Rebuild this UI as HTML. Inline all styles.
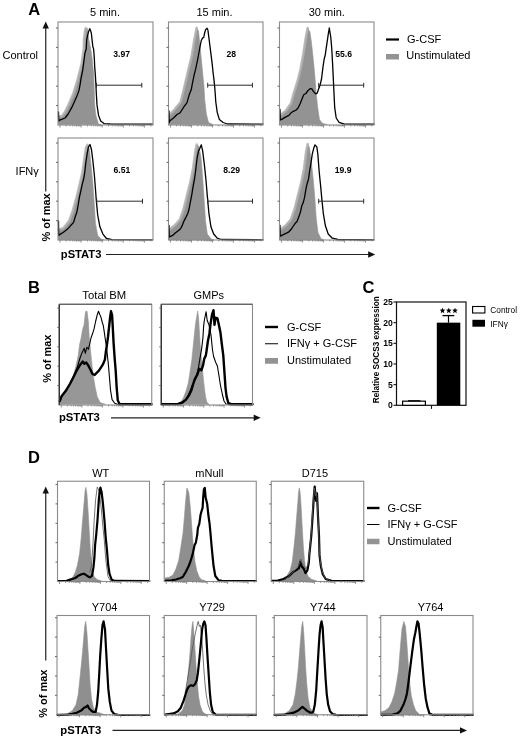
<!DOCTYPE html>
<html><head><meta charset="utf-8"><title>Figure</title>
<style>
html,body{margin:0;padding:0;background:#fff;width:520px;height:738px;overflow:hidden;}
svg{display:block;font-family:"Liberation Sans", sans-serif;filter:grayscale(1);}
</style></head><body>
<svg width="520" height="738" viewBox="0 0 520 738">
<rect x="0" y="0" width="520" height="738" fill="#fff"/>
<polygon points="58.50,124.50 58.50,116.60 62.00,116.00 65.00,112.00 68.40,105.00 73.50,93.20 77.90,78.60 81.60,64.00 83.80,49.30 84.00,39.90 85.20,30.00 85.80,28.20 87.40,28.50 88.90,39.90 90.70,48.80 92.05,57.70 92.90,66.60 93.80,75.60 94.30,93.00 94.70,105.00 95.80,115.00 98.40,124.00 101.00,124.50" fill="#939393" stroke="#939393" stroke-width="0.6" stroke-linejoin="round"/>
<polyline points="58.50,116.60 62.00,116.00 65.00,112.00 68.40,105.00 73.50,93.20 77.90,78.60 81.60,64.00 83.80,49.30 84.00,39.90 85.20,30.00 85.80,28.20" fill="none" stroke="#b3b3b3" stroke-width="2.6" stroke-linejoin="round" stroke-linecap="round" opacity="0.85"/>
<polyline points="58.50,112.00 58.80,121.00 60.40,119.80 65.10,118.00 68.50,113.50 72.30,106.40 74.50,101.50 76.75,96.60 79.00,90.40 80.20,84.00 80.90,79.10 82.70,70.20 84.00,60.40 84.90,53.25 86.25,48.80 86.70,39.90 87.60,35.40 88.50,31.80 89.80,28.70 90.70,30.90 91.40,33.60 92.05,39.90 92.90,47.00 93.60,48.80 94.30,57.70 94.70,66.60 95.40,75.60 95.90,84.50 96.30,93.20 97.00,104.90 98.50,115.20 100.70,121.00 104.30,123.70 110.00,124.00 152.50,124.20" fill="none" stroke="#000" stroke-width="1.3" stroke-linejoin="round" stroke-linecap="round"/>
<line x1="96.5" y1="85.2" x2="141.8" y2="85.2" stroke="#2a2a2a" stroke-width="1.0"/>
<line x1="141.8" y1="82.8" x2="141.8" y2="87.60000000000001" stroke="#2a2a2a" stroke-width="1.0"/>
<line x1="96.5" y1="82.8" x2="96.5" y2="87.60000000000001" stroke="#2a2a2a" stroke-width="1.0"/>
<text x="113.3" y="57.1" font-size="8.6" font-weight="bold">3.97</text>
<polygon points="169.00,124.50 169.00,115.20 174.80,109.30 180.60,102.00 183.60,90.30 188.00,71.20 191.60,56.60 194.50,39.00 196.70,27.80 198.50,30.90 199.40,39.90 200.30,48.80 201.20,57.70 202.05,66.60 202.90,75.60 203.80,84.50 204.80,100.50 206.30,113.70 208.50,122.50 212.90,124.50" fill="#939393" stroke="#939393" stroke-width="0.6" stroke-linejoin="round"/>
<polyline points="169.00,115.20 174.80,109.30 180.60,102.00 183.60,90.30 188.00,71.20 191.60,56.60 194.50,39.00 196.70,27.80" fill="none" stroke="#b3b3b3" stroke-width="2.6" stroke-linejoin="round" stroke-linecap="round" opacity="0.85"/>
<polyline points="169.00,110.80 169.20,122.50 169.90,120.70 173.50,118.00 177.00,114.50 180.20,112.70 181.90,110.00 184.20,106.40 186.90,102.90 188.20,98.40 189.50,93.90 191.30,89.50 192.20,84.50 194.00,75.60 195.80,68.40 197.10,62.20 198.50,55.00 199.80,47.90 201.20,40.75 202.50,38.10 203.80,37.20 204.70,32.70 205.60,29.60 207.00,28.25 207.90,30.00 208.60,35.40 209.50,42.50 210.40,49.70 211.40,57.70 212.30,64.90 213.00,72.00 213.90,79.10 214.55,85.40 215.10,92.00 215.80,102.00 217.20,112.20 219.40,119.60 223.10,122.50 227.50,124.00 263.00,124.20" fill="none" stroke="#000" stroke-width="1.3" stroke-linejoin="round" stroke-linecap="round"/>
<line x1="207.7" y1="85.2" x2="252.4" y2="85.2" stroke="#2a2a2a" stroke-width="1.0"/>
<line x1="252.4" y1="82.8" x2="252.4" y2="87.60000000000001" stroke="#2a2a2a" stroke-width="1.0"/>
<line x1="207.7" y1="82.8" x2="207.7" y2="87.60000000000001" stroke="#2a2a2a" stroke-width="1.0"/>
<text x="226.4" y="56.9" font-size="8.6" font-weight="bold">28</text>
<polygon points="280.00,124.50 280.00,115.20 285.80,110.80 290.90,103.50 293.80,93.20 297.50,81.50 300.40,69.80 303.40,53.70 305.60,39.00 307.70,28.00 309.90,31.70 311.40,42.00 313.30,59.50 314.80,75.60 316.20,93.20 317.70,107.80 319.50,119.60 322.40,123.20 326.80,124.50" fill="#939393" stroke="#939393" stroke-width="0.6" stroke-linejoin="round"/>
<polyline points="280.00,115.20 285.80,110.80 290.90,103.50 293.80,93.20 297.50,81.50 300.40,69.80 303.40,53.70 305.60,39.00 307.70,28.00" fill="none" stroke="#b3b3b3" stroke-width="2.6" stroke-linejoin="round" stroke-linecap="round" opacity="0.85"/>
<polyline points="280.00,109.30 280.30,120.00 281.80,119.40 285.40,117.10 288.90,115.40 291.20,112.70 293.40,111.30 296.10,110.00 297.90,108.20 300.10,103.75 301.90,99.30 303.70,94.80 305.90,93.50 308.10,90.40 310.40,88.60 312.00,89.00 313.50,91.60 315.70,93.80 317.20,93.10 318.70,88.70 320.10,85.10 321.60,78.50 323.00,66.80 324.10,59.50 325.20,55.10 326.70,44.90 328.20,34.60 329.30,28.00 330.80,37.50 331.80,49.20 332.60,63.90 333.30,78.50 334.00,93.10 334.70,107.70 336.20,118.00 339.10,122.30 344.30,124.10 374.00,124.20" fill="none" stroke="#000" stroke-width="1.3" stroke-linejoin="round" stroke-linecap="round"/>
<line x1="318.7" y1="85.2" x2="363.7" y2="85.2" stroke="#2a2a2a" stroke-width="1.0"/>
<line x1="363.7" y1="82.8" x2="363.7" y2="87.60000000000001" stroke="#2a2a2a" stroke-width="1.0"/>
<line x1="318.7" y1="82.8" x2="318.7" y2="87.60000000000001" stroke="#2a2a2a" stroke-width="1.0"/>
<text x="335.3" y="57.1" font-size="8.6" font-weight="bold">55.6</text>
<polygon points="58.50,240.00 58.50,229.70 63.30,228.20 69.20,220.90 72.80,210.70 76.50,197.50 79.40,185.80 82.40,172.60 84.50,158.00 86.00,147.70 87.50,144.80 89.40,149.20 91.10,165.30 92.90,184.30 94.40,206.30 95.50,223.80 97.70,235.60 101.40,239.20 104.00,240.00" fill="#939393" stroke="#939393" stroke-width="0.6" stroke-linejoin="round"/>
<polyline points="58.50,229.70 63.30,228.20 69.20,220.90 72.80,210.70 76.50,197.50 79.40,185.80 82.40,172.60 84.50,158.00 86.00,147.70 87.50,144.80" fill="none" stroke="#b3b3b3" stroke-width="2.6" stroke-linejoin="round" stroke-linecap="round" opacity="0.85"/>
<polyline points="58.50,220.90 58.70,235.60 59.30,234.90 63.40,232.30 66.90,229.60 69.60,226.90 71.40,224.70 73.60,222.40 75.40,216.20 76.75,212.60 78.10,205.50 79.40,197.40 80.80,191.20 82.10,184.90 83.90,177.80 84.80,172.00 85.70,163.50 87.10,153.80 88.50,146.90 90.00,144.50 91.40,149.20 92.90,160.90 94.40,175.50 95.20,185.80 96.30,200.40 97.70,215.00 99.90,226.80 102.90,234.10 106.50,238.50 112.00,239.60 152.50,239.80" fill="none" stroke="#000" stroke-width="1.3" stroke-linejoin="round" stroke-linecap="round"/>
<line x1="96.7" y1="201.2" x2="142.5" y2="201.2" stroke="#2a2a2a" stroke-width="1.0"/>
<line x1="142.5" y1="198.79999999999998" x2="142.5" y2="203.6" stroke="#2a2a2a" stroke-width="1.0"/>
<line x1="96.7" y1="198.79999999999998" x2="96.7" y2="203.6" stroke="#2a2a2a" stroke-width="1.0"/>
<text x="113.6" y="173.3" font-size="8.6" font-weight="bold">6.51</text>
<polygon points="169.00,240.00 169.00,229.70 174.80,225.30 179.90,219.50 183.60,209.20 187.20,194.60 190.20,182.90 193.10,168.20 195.30,152.10 196.70,144.50 198.90,146.20 201.10,158.00 202.60,177.00 204.10,199.00 205.50,220.90 207.30,234.10 211.40,239.20 214.00,240.00" fill="#939393" stroke="#939393" stroke-width="0.6" stroke-linejoin="round"/>
<polyline points="169.00,229.70 174.80,225.30 179.90,219.50 183.60,209.20 187.20,194.60 190.20,182.90 193.10,168.20 195.30,152.10 196.70,144.50" fill="none" stroke="#b3b3b3" stroke-width="2.6" stroke-linejoin="round" stroke-linecap="round" opacity="0.85"/>
<polyline points="169.00,225.30 169.20,237.00 169.90,236.70 172.60,235.40 175.25,233.10 177.90,230.90 180.60,228.70 182.40,225.10 184.20,220.60 186.00,217.10 187.75,213.50 189.10,209.00 190.40,201.90 191.80,194.75 192.90,187.60 194.40,179.60 195.50,172.00 197.10,158.00 198.50,151.10 199.90,148.30 201.30,144.80 202.70,151.10 204.70,167.70 206.10,181.50 207.50,198.10 208.90,213.30 211.00,227.10 213.70,234.00 217.20,238.20 221.30,239.50 263.00,239.80" fill="none" stroke="#000" stroke-width="1.3" stroke-linejoin="round" stroke-linecap="round"/>
<line x1="207.7" y1="201.2" x2="252.5" y2="201.2" stroke="#2a2a2a" stroke-width="1.0"/>
<line x1="252.5" y1="198.79999999999998" x2="252.5" y2="203.6" stroke="#2a2a2a" stroke-width="1.0"/>
<line x1="207.7" y1="198.79999999999998" x2="207.7" y2="203.6" stroke="#2a2a2a" stroke-width="1.0"/>
<text x="223.3" y="173.3" font-size="8.6" font-weight="bold">8.29</text>
<polygon points="280.00,240.00 280.00,229.70 285.80,225.30 290.90,219.50 294.60,209.20 298.20,194.60 301.20,182.90 304.10,168.20 306.30,150.60 307.70,144.00 309.50,147.70 311.40,162.40 313.30,179.90 314.80,197.50 316.20,218.00 318.00,232.60 320.90,238.50 324.00,240.00" fill="#939393" stroke="#939393" stroke-width="0.6" stroke-linejoin="round"/>
<polyline points="280.00,229.70 285.80,225.30 290.90,219.50 294.60,209.20 298.20,194.60 301.20,182.90 304.10,168.20 306.30,150.60 307.70,144.00" fill="none" stroke="#b3b3b3" stroke-width="2.6" stroke-linejoin="round" stroke-linecap="round" opacity="0.85"/>
<polyline points="280.00,225.30 280.20,236.30 281.80,235.40 285.40,233.60 288.90,231.80 291.60,228.70 293.40,226.00 295.20,223.30 297.00,221.50 298.75,217.10 300.50,211.70 301.90,205.50 303.20,202.80 304.55,197.40 305.90,189.40 306.80,184.90 308.60,178.70 309.50,171.80 310.90,163.50 312.30,153.80 313.70,148.30 315.00,144.80 316.80,146.90 317.80,153.80 319.20,171.80 320.60,185.60 322.00,200.90 323.30,213.30 325.40,225.80 328.20,234.00 332.30,238.20 337.90,239.50 374.00,239.80" fill="none" stroke="#000" stroke-width="1.3" stroke-linejoin="round" stroke-linecap="round"/>
<line x1="318.7" y1="201.2" x2="363.7" y2="201.2" stroke="#2a2a2a" stroke-width="1.0"/>
<line x1="363.7" y1="198.79999999999998" x2="363.7" y2="203.6" stroke="#2a2a2a" stroke-width="1.0"/>
<line x1="318.7" y1="198.79999999999998" x2="318.7" y2="203.6" stroke="#2a2a2a" stroke-width="1.0"/>
<text x="334.8" y="173.3" font-size="8.6" font-weight="bold">19.9</text>
<polygon points="60.00,404.30 60.00,401.00 62.80,396.60 67.20,387.80 70.20,382.00 73.10,376.10 76.00,365.90 78.20,355.60 79.70,343.90 81.10,338.10 82.60,329.30 84.00,324.90 85.50,311.70 87.00,311.00 88.40,322.00 89.20,336.60 90.60,351.20 92.10,365.90 93.50,377.60 95.30,387.80 97.20,396.60 100.10,402.50 105.20,404.30" fill="#979797" stroke="#979797" stroke-width="0.6" stroke-linejoin="round"/>
<polyline points="60.00,401.00 61.40,396.60 65.80,390.80 70.20,383.50 73.80,376.10 77.10,367.80 80.20,357.50 82.20,352.40 84.30,348.20 85.30,353.40 86.90,347.20 88.40,349.30 89.40,345.20 91.00,338.00 92.50,333.80 94.10,328.70 95.60,321.50 97.10,315.30 98.50,311.20 99.70,314.30 101.00,317.40 102.30,322.50 103.30,325.60 104.40,332.80 105.40,340.00 106.40,346.20 107.40,355.40 108.50,365.70 109.50,378.00 110.50,390.00 112.10,399.60 114.70,403.20 117.60,404.20 151.50,404.30" fill="none" stroke="#000" stroke-width="1.1" stroke-linejoin="round" stroke-linecap="round"/>
<polyline points="59.80,401.00 61.40,396.60 65.80,390.80 70.20,383.50 74.00,376.00 77.10,369.80 80.20,364.70 82.70,361.60 84.30,363.70 86.30,362.60 88.40,365.70 90.50,369.80 92.50,374.00 94.60,375.00 96.60,372.90 98.70,370.90 100.70,367.80 102.80,364.70 104.90,359.60 105.90,351.30 106.90,345.20 108.00,336.90 109.00,327.70 110.00,318.40 111.00,311.20 112.10,315.30 112.90,329.70 113.60,343.10 114.60,357.50 115.70,370.90 116.70,388.00 117.80,400.50 119.80,404.20 151.50,404.30" fill="none" stroke="#000" stroke-width="2.4" stroke-linejoin="round" stroke-linecap="round"/>
<polygon points="162.00,404.30 178.00,403.80 181.00,402.00 183.50,397.50 186.00,391.00 188.30,383.00 190.00,372.00 191.80,360.00 193.00,348.00 194.20,336.00 195.50,324.00 196.80,316.00 197.70,311.00 198.60,318.00 199.30,330.00 200.20,345.00 201.20,357.00 202.30,368.00 203.50,380.00 204.60,390.00 205.80,398.00 207.00,402.50 209.00,404.30" fill="#979797" stroke="#979797" stroke-width="0.6" stroke-linejoin="round"/>
<polyline points="162.00,404.30 178.00,404.00 182.40,402.50 186.00,399.60 188.20,395.20 192.60,384.90 196.30,377.60 198.50,367.30 200.20,357.10 201.70,348.30 202.90,338.10 203.60,326.40 204.30,320.50 206.10,311.70 207.20,320.50 209.00,324.90 211.00,335.00 212.50,350.00 213.50,356.00 215.50,362.00 217.40,366.00 219.00,376.00 220.40,385.00 222.50,395.00 224.00,401.00 226.00,404.00 252.50,404.30" fill="none" stroke="#000" stroke-width="1.1" stroke-linejoin="round" stroke-linecap="round"/>
<polyline points="162.00,404.30 178.00,404.00 182.40,402.50 186.00,399.60 189.00,395.20 191.20,390.80 192.90,384.90 194.80,379.10 197.30,374.70 199.20,368.80 201.40,370.30 202.90,365.90 204.30,358.60 205.80,355.60 206.50,351.20 207.90,341.00 209.40,333.70 210.60,323.40 212.00,314.60 213.50,310.20 214.50,324.90 215.50,317.60 217.40,318.30 218.90,324.90 220.40,332.20 221.80,343.90 223.30,355.60 224.00,365.90 224.70,376.10 225.50,387.80 226.60,396.60 228.40,403.20 231.30,404.20 252.50,404.30" fill="none" stroke="#000" stroke-width="2.4" stroke-linejoin="round" stroke-linecap="round"/>
<polygon points="58.00,581.00 69.50,580.20 72.40,578.00 75.30,572.20 77.50,565.00 79.60,553.40 81.10,538.90 82.50,521.50 84.00,504.10 85.10,491.00 85.90,487.40 86.90,494.00 88.00,509.90 89.10,528.70 90.10,546.10 91.20,560.60 92.40,570.80 94.10,576.60 97.00,579.40 101.40,581.00" fill="#8f8f8f" stroke="#8f8f8f" stroke-width="0.6" stroke-linejoin="round"/>
<polyline points="89.80,572.00 91.50,566.00 93.00,543.20 94.10,521.50 95.60,499.70 97.30,487.00 99.20,491.00 101.10,507.00 102.80,525.80 104.30,540.30 105.80,560.00 108.00,576.60 110.10,580.20 113.00,581.00" fill="none" stroke="#5a5a5a" stroke-width="0.85" stroke-linejoin="round" stroke-linecap="round"/>
<polyline points="58.00,581.00 66.60,580.90 70.90,579.40 75.30,578.00 78.20,575.80 81.10,574.40 84.00,573.70 86.20,575.10 88.30,576.60 89.80,577.30 92.00,575.80 93.40,567.90 94.40,557.70 95.10,545.00 96.20,535.00 97.50,520.00 98.30,508.00 98.80,500.00 99.60,492.00 100.40,487.60 101.60,492.00 103.00,504.00 104.60,522.00 105.60,536.00 107.00,550.50 108.20,565.00 109.50,573.70 111.50,579.40 114.50,580.90 149.30,581.00" fill="none" stroke="#000" stroke-width="2.2" stroke-linejoin="round" stroke-linecap="round"/>
<polygon points="165.00,581.00 164.90,578.00 169.20,577.30 172.90,575.10 175.80,569.30 178.70,560.60 180.80,547.60 183.00,533.10 184.50,515.70 185.50,502.60 186.90,488.10 188.80,492.50 190.30,507.00 191.40,521.50 192.40,536.00 193.60,550.50 195.00,562.10 196.80,570.80 199.00,576.60 201.10,579.40 205.50,581.00" fill="#8f8f8f" stroke="#8f8f8f" stroke-width="0.6" stroke-linejoin="round"/>
<polyline points="165.00,580.80 171.50,580.30 176.00,579.50 180.00,578.20 182.70,577.00 186.00,571.60 188.60,566.30 190.60,561.00 192.60,554.40 194.60,545.10 195.90,542.40 197.30,534.50 197.90,527.80 199.30,523.80 200.60,514.50 201.70,510.60 202.60,507.90 203.20,497.30 203.90,489.30 204.80,488.00 205.60,497.30 207.20,503.90 208.30,514.50 209.60,523.80 210.60,534.50 211.50,545.10 212.50,555.70 213.60,566.30 215.30,576.00 218.70,580.40 222.00,580.90 256.00,581.00" fill="none" stroke="#000" stroke-width="2.2" stroke-linejoin="round" stroke-linecap="round"/>
<polygon points="272.00,581.00 282.00,579.40 286.40,576.60 290.00,570.80 292.20,562.10 293.90,547.60 295.40,533.10 296.50,518.60 297.70,504.10 298.70,491.00 299.40,487.90 300.40,495.40 301.30,509.90 302.30,528.70 303.30,546.10 304.50,560.60 306.00,570.80 308.10,576.60 311.80,579.40 316.80,581.00" fill="#8f8f8f" stroke="#8f8f8f" stroke-width="0.6" stroke-linejoin="round"/>
<polyline points="272.00,580.80 278.00,580.50 283.40,579.00 289.20,576.10 293.00,572.20 295.90,570.30 298.80,568.40 300.30,561.70 301.70,566.50 303.60,568.40 305.50,573.00 307.40,570.30 308.80,562.60 309.30,554.90 311.30,535.70 312.60,516.50 313.80,497.20 314.70,486.70 316.10,501.00 317.00,493.40 318.00,516.50 319.00,535.70 319.50,554.90 320.90,566.50 322.80,574.20 325.70,579.00 331.50,580.90 363.50,581.00" fill="none" stroke="#000" stroke-width="2.2" stroke-linejoin="round" stroke-linecap="round"/>
<polyline points="285.00,579.50 290.00,575.50 294.00,571.00 297.00,568.00 299.50,564.00 300.80,559.00 302.00,563.00 304.00,566.00 306.00,569.00 308.00,564.00 309.50,552.00 311.00,535.00 312.30,516.00 313.50,497.00 314.50,488.00 315.50,496.00 316.50,492.00 317.60,510.00 318.60,530.00 319.30,550.00 320.50,563.00 322.50,572.00 325.00,578.00 330.00,580.80" fill="none" stroke="#5a5a5a" stroke-width="0.85" stroke-linejoin="round" stroke-linecap="round"/>
<polygon points="57.50,715.00 68.00,713.40 72.40,710.60 76.00,704.80 78.20,694.60 79.60,681.60 81.10,667.10 82.50,652.60 83.70,638.10 84.70,626.50 85.70,621.40 86.90,632.30 88.00,649.70 89.10,667.10 90.10,684.50 91.50,699.00 93.40,707.70 96.30,712.00 101.40,713.40 105.00,715.00" fill="#8f8f8f" stroke="#8f8f8f" stroke-width="0.6" stroke-linejoin="round"/>
<polyline points="57.50,714.80 68.00,714.60 72.40,713.80 76.70,712.70 81.10,710.60 84.00,707.70 86.20,706.90 87.60,705.50 89.10,708.40 91.20,710.60 93.40,712.00 95.60,712.00 97.00,704.80 98.20,691.70 99.20,674.30 100.20,655.50 101.40,638.10 102.50,625.00 103.60,621.40 105.00,629.40 106.00,648.20 107.20,670.00 108.30,688.80 109.80,701.90 111.50,710.60 114.40,714.20 118.00,714.80 149.30,715.00" fill="none" stroke="#000" stroke-width="2.2" stroke-linejoin="round" stroke-linecap="round"/>
<polygon points="165.00,715.00 177.90,714.20 182.30,710.60 184.50,704.80 185.90,694.60 187.40,681.60 188.80,667.10 190.00,652.60 191.00,638.10 192.00,626.50 192.90,621.40 193.90,633.70 195.00,649.70 196.10,667.10 197.20,681.60 198.50,696.10 200.00,704.80 202.60,712.00 206.90,715.00" fill="#8f8f8f" stroke="#8f8f8f" stroke-width="0.6" stroke-linejoin="round"/>
<polyline points="185.20,693.20 187.40,680.10 189.50,667.10 191.00,658.40 192.40,648.20 193.90,641.00 195.30,633.70 196.80,626.50 198.20,621.40 199.40,626.50 200.40,625.00 201.40,633.70 202.60,649.70 203.70,667.10 204.80,681.60 206.20,694.60 208.10,704.80 210.60,711.50 213.00,714.60" fill="none" stroke="#5a5a5a" stroke-width="0.85" stroke-linejoin="round" stroke-linecap="round"/>
<polyline points="165.00,714.50 173.60,713.40 177.90,711.30 180.80,707.70 183.70,700.40 185.90,693.20 187.40,688.80 188.80,686.60 191.00,685.20 193.20,685.90 195.30,683.70 196.80,680.10 197.90,672.90 199.00,662.70 200.00,652.60 201.10,641.00 202.10,629.40 203.30,623.60 204.30,621.40 205.50,625.00 206.40,638.00 207.40,655.00 208.70,675.00 209.90,693.20 211.10,704.80 212.80,712.00 215.70,714.60 256.00,714.80" fill="none" stroke="#000" stroke-width="2.2" stroke-linejoin="round" stroke-linecap="round"/>
<polygon points="274.50,715.00 285.00,713.40 289.40,710.60 293.00,704.80 295.20,694.60 296.90,681.60 298.40,667.10 299.50,652.60 300.70,638.10 301.70,626.50 302.70,621.40 303.60,630.80 304.60,648.20 305.60,667.10 306.80,684.50 308.20,699.00 310.00,707.70 313.30,712.70 318.40,715.00" fill="#8f8f8f" stroke="#8f8f8f" stroke-width="0.6" stroke-linejoin="round"/>
<polyline points="274.50,714.80 285.00,714.60 289.40,713.60 293.70,712.70 298.10,710.60 300.50,708.50 302.40,706.90 304.50,708.50 306.80,710.60 310.40,712.70 312.60,712.30 313.30,711.50 314.80,704.80 316.20,690.30 317.20,672.90 318.40,652.60 319.50,635.20 320.60,625.00 321.60,621.40 322.70,628.00 323.40,641.00 324.50,659.80 325.60,678.70 326.80,694.60 328.20,704.80 330.00,711.30 332.90,714.20 336.00,714.80 366.80,715.00" fill="none" stroke="#000" stroke-width="2.2" stroke-linejoin="round" stroke-linecap="round"/>
<polygon points="381.50,715.00 380.90,712.00 385.20,710.60 388.90,707.70 391.80,701.90 394.70,693.20 396.80,681.60 398.60,670.00 399.70,655.50 400.90,641.00 401.90,629.40 403.80,621.40 405.50,626.50 406.70,641.00 407.70,655.50 408.70,670.00 409.90,684.50 411.30,696.10 413.50,704.80 415.70,710.60 420.00,715.00" fill="#8f8f8f" stroke="#8f8f8f" stroke-width="0.6" stroke-linejoin="round"/>
<polyline points="381.50,714.80 392.50,714.60 397.60,713.40 400.50,710.60 403.40,704.80 405.50,699.00 407.00,693.20 408.40,683.00 409.60,672.90 411.00,661.30 412.50,649.70 413.90,639.50 415.40,632.30 416.40,626.50 417.40,621.40 418.60,623.60 419.70,633.70 421.20,649.70 422.60,667.10 424.10,684.50 425.80,699.00 427.60,707.70 429.40,713.40 432.30,714.80 472.80,714.80" fill="none" stroke="#000" stroke-width="2.2" stroke-linejoin="round" stroke-linecap="round"/>
<text x="28.3" y="14.8" font-size="16.5" font-weight="bold" fill="#000">A</text>
<text x="105" y="15.8" font-size="11" text-anchor="middle" fill="#000">5 min.</text>
<text x="214.5" y="15.8" font-size="11" text-anchor="middle" fill="#000">15 min.</text>
<text x="326.8" y="15.8" font-size="11" text-anchor="middle" fill="#000">30 min.</text>
<rect x="58" y="22" width="95" height="103" fill="none" stroke="#8a8a8a" stroke-width="1.1"/>
<line x1="56.0" y1="105.6" x2="58" y2="105.6" stroke="#666" stroke-width="1.0"/>
<line x1="56.0" y1="86.2" x2="58" y2="86.2" stroke="#666" stroke-width="1.0"/>
<line x1="56.0" y1="66.80000000000001" x2="58" y2="66.80000000000001" stroke="#666" stroke-width="1.0"/>
<line x1="56.0" y1="47.400000000000006" x2="58" y2="47.400000000000006" stroke="#666" stroke-width="1.0"/>
<line x1="56.0" y1="28.0" x2="58" y2="28.0" stroke="#666" stroke-width="1.0"/>
<line x1="60.0" y1="125" x2="60.0" y2="127.6" stroke="#777" stroke-width="0.8"/>
<line x1="66.3550776862396" y1="125" x2="66.3550776862396" y2="126.4" stroke="#777" stroke-width="0.8"/>
<line x1="70.07255982185954" y1="125" x2="70.07255982185954" y2="126.4" stroke="#777" stroke-width="0.8"/>
<line x1="72.7101553724792" y1="125" x2="72.7101553724792" y2="126.4" stroke="#777" stroke-width="0.8"/>
<line x1="74.7560334248715" y1="125" x2="74.7560334248715" y2="126.4" stroke="#777" stroke-width="0.8"/>
<line x1="76.42763750809914" y1="125" x2="76.42763750809914" y2="126.4" stroke="#777" stroke-width="0.8"/>
<line x1="77.8409586225232" y1="125" x2="77.8409586225232" y2="126.4" stroke="#777" stroke-width="0.8"/>
<line x1="79.0652330587188" y1="125" x2="79.0652330587188" y2="126.4" stroke="#777" stroke-width="0.8"/>
<line x1="80.14511964371908" y1="125" x2="80.14511964371908" y2="126.4" stroke="#777" stroke-width="0.8"/>
<line x1="81.11111111111111" y1="125" x2="81.11111111111111" y2="127.6" stroke="#777" stroke-width="0.8"/>
<line x1="87.46618879735071" y1="125" x2="87.46618879735071" y2="126.4" stroke="#777" stroke-width="0.8"/>
<line x1="91.18367093297066" y1="125" x2="91.18367093297066" y2="126.4" stroke="#777" stroke-width="0.8"/>
<line x1="93.82126648359032" y1="125" x2="93.82126648359032" y2="126.4" stroke="#777" stroke-width="0.8"/>
<line x1="95.86714453598262" y1="125" x2="95.86714453598262" y2="126.4" stroke="#777" stroke-width="0.8"/>
<line x1="97.53874861921025" y1="125" x2="97.53874861921025" y2="126.4" stroke="#777" stroke-width="0.8"/>
<line x1="98.95206973363432" y1="125" x2="98.95206973363432" y2="126.4" stroke="#777" stroke-width="0.8"/>
<line x1="100.17634416982992" y1="125" x2="100.17634416982992" y2="126.4" stroke="#777" stroke-width="0.8"/>
<line x1="101.2562307548302" y1="125" x2="101.2562307548302" y2="126.4" stroke="#777" stroke-width="0.8"/>
<line x1="102.22222222222223" y1="125" x2="102.22222222222223" y2="127.6" stroke="#777" stroke-width="0.8"/>
<line x1="108.57729990846182" y1="125" x2="108.57729990846182" y2="126.4" stroke="#777" stroke-width="0.8"/>
<line x1="112.29478204408177" y1="125" x2="112.29478204408177" y2="126.4" stroke="#777" stroke-width="0.8"/>
<line x1="114.93237759470144" y1="125" x2="114.93237759470144" y2="126.4" stroke="#777" stroke-width="0.8"/>
<line x1="116.97825564709373" y1="125" x2="116.97825564709373" y2="126.4" stroke="#777" stroke-width="0.8"/>
<line x1="118.64985973032137" y1="125" x2="118.64985973032137" y2="126.4" stroke="#777" stroke-width="0.8"/>
<line x1="120.06318084474543" y1="125" x2="120.06318084474543" y2="126.4" stroke="#777" stroke-width="0.8"/>
<line x1="121.28745528094103" y1="125" x2="121.28745528094103" y2="126.4" stroke="#777" stroke-width="0.8"/>
<line x1="122.36734186594131" y1="125" x2="122.36734186594131" y2="126.4" stroke="#777" stroke-width="0.8"/>
<line x1="123.33333333333333" y1="125" x2="123.33333333333333" y2="127.6" stroke="#777" stroke-width="0.8"/>
<line x1="129.68841101957292" y1="125" x2="129.68841101957292" y2="126.4" stroke="#777" stroke-width="0.8"/>
<line x1="133.40589315519287" y1="125" x2="133.40589315519287" y2="126.4" stroke="#777" stroke-width="0.8"/>
<line x1="136.04348870581254" y1="125" x2="136.04348870581254" y2="126.4" stroke="#777" stroke-width="0.8"/>
<line x1="138.08936675820485" y1="125" x2="138.08936675820485" y2="126.4" stroke="#777" stroke-width="0.8"/>
<line x1="139.76097084143248" y1="125" x2="139.76097084143248" y2="126.4" stroke="#777" stroke-width="0.8"/>
<line x1="141.17429195585652" y1="125" x2="141.17429195585652" y2="126.4" stroke="#777" stroke-width="0.8"/>
<line x1="142.39856639205215" y1="125" x2="142.39856639205215" y2="126.4" stroke="#777" stroke-width="0.8"/>
<line x1="143.4784529770524" y1="125" x2="143.4784529770524" y2="126.4" stroke="#777" stroke-width="0.8"/>
<line x1="144.44444444444446" y1="125" x2="144.44444444444446" y2="127.6" stroke="#777" stroke-width="0.8"/>
<line x1="150.79952213068407" y1="125" x2="150.79952213068407" y2="126.4" stroke="#777" stroke-width="0.8"/>
<rect x="168.5" y="22" width="94.5" height="103" fill="none" stroke="#8a8a8a" stroke-width="1.1"/>
<line x1="166.5" y1="105.6" x2="168.5" y2="105.6" stroke="#666" stroke-width="1.0"/>
<line x1="166.5" y1="86.2" x2="168.5" y2="86.2" stroke="#666" stroke-width="1.0"/>
<line x1="166.5" y1="66.80000000000001" x2="168.5" y2="66.80000000000001" stroke="#666" stroke-width="1.0"/>
<line x1="166.5" y1="47.400000000000006" x2="168.5" y2="47.400000000000006" stroke="#666" stroke-width="1.0"/>
<line x1="166.5" y1="28.0" x2="168.5" y2="28.0" stroke="#666" stroke-width="1.0"/>
<line x1="170.5" y1="125" x2="170.5" y2="127.6" stroke="#777" stroke-width="0.8"/>
<line x1="176.8216299089436" y1="125" x2="176.8216299089436" y2="126.4" stroke="#777" stroke-width="0.8"/>
<line x1="180.51954634911291" y1="125" x2="180.51954634911291" y2="126.4" stroke="#777" stroke-width="0.8"/>
<line x1="183.1432598178872" y1="125" x2="183.1432598178872" y2="126.4" stroke="#777" stroke-width="0.8"/>
<line x1="185.1783700910564" y1="125" x2="185.1783700910564" y2="126.4" stroke="#777" stroke-width="0.8"/>
<line x1="186.84117625805652" y1="125" x2="186.84117625805652" y2="126.4" stroke="#777" stroke-width="0.8"/>
<line x1="188.2470588402994" y1="125" x2="188.2470588402994" y2="126.4" stroke="#777" stroke-width="0.8"/>
<line x1="189.46488972683082" y1="125" x2="189.46488972683082" y2="126.4" stroke="#777" stroke-width="0.8"/>
<line x1="190.53909269822583" y1="125" x2="190.53909269822583" y2="126.4" stroke="#777" stroke-width="0.8"/>
<line x1="191.5" y1="125" x2="191.5" y2="127.6" stroke="#777" stroke-width="0.8"/>
<line x1="197.8216299089436" y1="125" x2="197.8216299089436" y2="126.4" stroke="#777" stroke-width="0.8"/>
<line x1="201.51954634911291" y1="125" x2="201.51954634911291" y2="126.4" stroke="#777" stroke-width="0.8"/>
<line x1="204.1432598178872" y1="125" x2="204.1432598178872" y2="126.4" stroke="#777" stroke-width="0.8"/>
<line x1="206.1783700910564" y1="125" x2="206.1783700910564" y2="126.4" stroke="#777" stroke-width="0.8"/>
<line x1="207.84117625805652" y1="125" x2="207.84117625805652" y2="126.4" stroke="#777" stroke-width="0.8"/>
<line x1="209.2470588402994" y1="125" x2="209.2470588402994" y2="126.4" stroke="#777" stroke-width="0.8"/>
<line x1="210.46488972683082" y1="125" x2="210.46488972683082" y2="126.4" stroke="#777" stroke-width="0.8"/>
<line x1="211.53909269822583" y1="125" x2="211.53909269822583" y2="126.4" stroke="#777" stroke-width="0.8"/>
<line x1="212.5" y1="125" x2="212.5" y2="127.6" stroke="#777" stroke-width="0.8"/>
<line x1="218.8216299089436" y1="125" x2="218.8216299089436" y2="126.4" stroke="#777" stroke-width="0.8"/>
<line x1="222.51954634911291" y1="125" x2="222.51954634911291" y2="126.4" stroke="#777" stroke-width="0.8"/>
<line x1="225.1432598178872" y1="125" x2="225.1432598178872" y2="126.4" stroke="#777" stroke-width="0.8"/>
<line x1="227.1783700910564" y1="125" x2="227.1783700910564" y2="126.4" stroke="#777" stroke-width="0.8"/>
<line x1="228.84117625805652" y1="125" x2="228.84117625805652" y2="126.4" stroke="#777" stroke-width="0.8"/>
<line x1="230.2470588402994" y1="125" x2="230.2470588402994" y2="126.4" stroke="#777" stroke-width="0.8"/>
<line x1="231.46488972683082" y1="125" x2="231.46488972683082" y2="126.4" stroke="#777" stroke-width="0.8"/>
<line x1="232.53909269822583" y1="125" x2="232.53909269822583" y2="126.4" stroke="#777" stroke-width="0.8"/>
<line x1="233.5" y1="125" x2="233.5" y2="127.6" stroke="#777" stroke-width="0.8"/>
<line x1="239.8216299089436" y1="125" x2="239.8216299089436" y2="126.4" stroke="#777" stroke-width="0.8"/>
<line x1="243.51954634911291" y1="125" x2="243.51954634911291" y2="126.4" stroke="#777" stroke-width="0.8"/>
<line x1="246.1432598178872" y1="125" x2="246.1432598178872" y2="126.4" stroke="#777" stroke-width="0.8"/>
<line x1="248.1783700910564" y1="125" x2="248.1783700910564" y2="126.4" stroke="#777" stroke-width="0.8"/>
<line x1="249.84117625805652" y1="125" x2="249.84117625805652" y2="126.4" stroke="#777" stroke-width="0.8"/>
<line x1="251.2470588402994" y1="125" x2="251.2470588402994" y2="126.4" stroke="#777" stroke-width="0.8"/>
<line x1="252.46488972683082" y1="125" x2="252.46488972683082" y2="126.4" stroke="#777" stroke-width="0.8"/>
<line x1="253.53909269822583" y1="125" x2="253.53909269822583" y2="126.4" stroke="#777" stroke-width="0.8"/>
<line x1="254.5" y1="125" x2="254.5" y2="127.6" stroke="#777" stroke-width="0.8"/>
<line x1="260.8216299089436" y1="125" x2="260.8216299089436" y2="126.4" stroke="#777" stroke-width="0.8"/>
<rect x="279.5" y="22" width="94.5" height="103" fill="none" stroke="#8a8a8a" stroke-width="1.1"/>
<line x1="277.5" y1="105.6" x2="279.5" y2="105.6" stroke="#666" stroke-width="1.0"/>
<line x1="277.5" y1="86.2" x2="279.5" y2="86.2" stroke="#666" stroke-width="1.0"/>
<line x1="277.5" y1="66.80000000000001" x2="279.5" y2="66.80000000000001" stroke="#666" stroke-width="1.0"/>
<line x1="277.5" y1="47.400000000000006" x2="279.5" y2="47.400000000000006" stroke="#666" stroke-width="1.0"/>
<line x1="277.5" y1="28.0" x2="279.5" y2="28.0" stroke="#666" stroke-width="1.0"/>
<line x1="281.5" y1="125" x2="281.5" y2="127.6" stroke="#777" stroke-width="0.8"/>
<line x1="287.8216299089436" y1="125" x2="287.8216299089436" y2="126.4" stroke="#777" stroke-width="0.8"/>
<line x1="291.5195463491129" y1="125" x2="291.5195463491129" y2="126.4" stroke="#777" stroke-width="0.8"/>
<line x1="294.1432598178872" y1="125" x2="294.1432598178872" y2="126.4" stroke="#777" stroke-width="0.8"/>
<line x1="296.1783700910564" y1="125" x2="296.1783700910564" y2="126.4" stroke="#777" stroke-width="0.8"/>
<line x1="297.8411762580565" y1="125" x2="297.8411762580565" y2="126.4" stroke="#777" stroke-width="0.8"/>
<line x1="299.2470588402994" y1="125" x2="299.2470588402994" y2="126.4" stroke="#777" stroke-width="0.8"/>
<line x1="300.4648897268308" y1="125" x2="300.4648897268308" y2="126.4" stroke="#777" stroke-width="0.8"/>
<line x1="301.53909269822583" y1="125" x2="301.53909269822583" y2="126.4" stroke="#777" stroke-width="0.8"/>
<line x1="302.5" y1="125" x2="302.5" y2="127.6" stroke="#777" stroke-width="0.8"/>
<line x1="308.8216299089436" y1="125" x2="308.8216299089436" y2="126.4" stroke="#777" stroke-width="0.8"/>
<line x1="312.5195463491129" y1="125" x2="312.5195463491129" y2="126.4" stroke="#777" stroke-width="0.8"/>
<line x1="315.1432598178872" y1="125" x2="315.1432598178872" y2="126.4" stroke="#777" stroke-width="0.8"/>
<line x1="317.1783700910564" y1="125" x2="317.1783700910564" y2="126.4" stroke="#777" stroke-width="0.8"/>
<line x1="318.8411762580565" y1="125" x2="318.8411762580565" y2="126.4" stroke="#777" stroke-width="0.8"/>
<line x1="320.2470588402994" y1="125" x2="320.2470588402994" y2="126.4" stroke="#777" stroke-width="0.8"/>
<line x1="321.4648897268308" y1="125" x2="321.4648897268308" y2="126.4" stroke="#777" stroke-width="0.8"/>
<line x1="322.53909269822583" y1="125" x2="322.53909269822583" y2="126.4" stroke="#777" stroke-width="0.8"/>
<line x1="323.5" y1="125" x2="323.5" y2="127.6" stroke="#777" stroke-width="0.8"/>
<line x1="329.8216299089436" y1="125" x2="329.8216299089436" y2="126.4" stroke="#777" stroke-width="0.8"/>
<line x1="333.5195463491129" y1="125" x2="333.5195463491129" y2="126.4" stroke="#777" stroke-width="0.8"/>
<line x1="336.1432598178872" y1="125" x2="336.1432598178872" y2="126.4" stroke="#777" stroke-width="0.8"/>
<line x1="338.1783700910564" y1="125" x2="338.1783700910564" y2="126.4" stroke="#777" stroke-width="0.8"/>
<line x1="339.8411762580565" y1="125" x2="339.8411762580565" y2="126.4" stroke="#777" stroke-width="0.8"/>
<line x1="341.2470588402994" y1="125" x2="341.2470588402994" y2="126.4" stroke="#777" stroke-width="0.8"/>
<line x1="342.4648897268308" y1="125" x2="342.4648897268308" y2="126.4" stroke="#777" stroke-width="0.8"/>
<line x1="343.53909269822583" y1="125" x2="343.53909269822583" y2="126.4" stroke="#777" stroke-width="0.8"/>
<line x1="344.5" y1="125" x2="344.5" y2="127.6" stroke="#777" stroke-width="0.8"/>
<line x1="350.8216299089436" y1="125" x2="350.8216299089436" y2="126.4" stroke="#777" stroke-width="0.8"/>
<line x1="354.5195463491129" y1="125" x2="354.5195463491129" y2="126.4" stroke="#777" stroke-width="0.8"/>
<line x1="357.1432598178872" y1="125" x2="357.1432598178872" y2="126.4" stroke="#777" stroke-width="0.8"/>
<line x1="359.1783700910564" y1="125" x2="359.1783700910564" y2="126.4" stroke="#777" stroke-width="0.8"/>
<line x1="360.8411762580565" y1="125" x2="360.8411762580565" y2="126.4" stroke="#777" stroke-width="0.8"/>
<line x1="362.2470588402994" y1="125" x2="362.2470588402994" y2="126.4" stroke="#777" stroke-width="0.8"/>
<line x1="363.4648897268308" y1="125" x2="363.4648897268308" y2="126.4" stroke="#777" stroke-width="0.8"/>
<line x1="364.53909269822583" y1="125" x2="364.53909269822583" y2="126.4" stroke="#777" stroke-width="0.8"/>
<line x1="365.5" y1="125" x2="365.5" y2="127.6" stroke="#777" stroke-width="0.8"/>
<line x1="371.8216299089436" y1="125" x2="371.8216299089436" y2="126.4" stroke="#777" stroke-width="0.8"/>
<rect x="58" y="138" width="95" height="102" fill="none" stroke="#8a8a8a" stroke-width="1.1"/>
<line x1="56.0" y1="220.6" x2="58" y2="220.6" stroke="#666" stroke-width="1.0"/>
<line x1="56.0" y1="201.2" x2="58" y2="201.2" stroke="#666" stroke-width="1.0"/>
<line x1="56.0" y1="181.8" x2="58" y2="181.8" stroke="#666" stroke-width="1.0"/>
<line x1="56.0" y1="162.4" x2="58" y2="162.4" stroke="#666" stroke-width="1.0"/>
<line x1="56.0" y1="143.0" x2="58" y2="143.0" stroke="#666" stroke-width="1.0"/>
<line x1="60.0" y1="240" x2="60.0" y2="242.6" stroke="#777" stroke-width="0.8"/>
<line x1="66.3550776862396" y1="240" x2="66.3550776862396" y2="241.4" stroke="#777" stroke-width="0.8"/>
<line x1="70.07255982185954" y1="240" x2="70.07255982185954" y2="241.4" stroke="#777" stroke-width="0.8"/>
<line x1="72.7101553724792" y1="240" x2="72.7101553724792" y2="241.4" stroke="#777" stroke-width="0.8"/>
<line x1="74.7560334248715" y1="240" x2="74.7560334248715" y2="241.4" stroke="#777" stroke-width="0.8"/>
<line x1="76.42763750809914" y1="240" x2="76.42763750809914" y2="241.4" stroke="#777" stroke-width="0.8"/>
<line x1="77.8409586225232" y1="240" x2="77.8409586225232" y2="241.4" stroke="#777" stroke-width="0.8"/>
<line x1="79.0652330587188" y1="240" x2="79.0652330587188" y2="241.4" stroke="#777" stroke-width="0.8"/>
<line x1="80.14511964371908" y1="240" x2="80.14511964371908" y2="241.4" stroke="#777" stroke-width="0.8"/>
<line x1="81.11111111111111" y1="240" x2="81.11111111111111" y2="242.6" stroke="#777" stroke-width="0.8"/>
<line x1="87.46618879735071" y1="240" x2="87.46618879735071" y2="241.4" stroke="#777" stroke-width="0.8"/>
<line x1="91.18367093297066" y1="240" x2="91.18367093297066" y2="241.4" stroke="#777" stroke-width="0.8"/>
<line x1="93.82126648359032" y1="240" x2="93.82126648359032" y2="241.4" stroke="#777" stroke-width="0.8"/>
<line x1="95.86714453598262" y1="240" x2="95.86714453598262" y2="241.4" stroke="#777" stroke-width="0.8"/>
<line x1="97.53874861921025" y1="240" x2="97.53874861921025" y2="241.4" stroke="#777" stroke-width="0.8"/>
<line x1="98.95206973363432" y1="240" x2="98.95206973363432" y2="241.4" stroke="#777" stroke-width="0.8"/>
<line x1="100.17634416982992" y1="240" x2="100.17634416982992" y2="241.4" stroke="#777" stroke-width="0.8"/>
<line x1="101.2562307548302" y1="240" x2="101.2562307548302" y2="241.4" stroke="#777" stroke-width="0.8"/>
<line x1="102.22222222222223" y1="240" x2="102.22222222222223" y2="242.6" stroke="#777" stroke-width="0.8"/>
<line x1="108.57729990846182" y1="240" x2="108.57729990846182" y2="241.4" stroke="#777" stroke-width="0.8"/>
<line x1="112.29478204408177" y1="240" x2="112.29478204408177" y2="241.4" stroke="#777" stroke-width="0.8"/>
<line x1="114.93237759470144" y1="240" x2="114.93237759470144" y2="241.4" stroke="#777" stroke-width="0.8"/>
<line x1="116.97825564709373" y1="240" x2="116.97825564709373" y2="241.4" stroke="#777" stroke-width="0.8"/>
<line x1="118.64985973032137" y1="240" x2="118.64985973032137" y2="241.4" stroke="#777" stroke-width="0.8"/>
<line x1="120.06318084474543" y1="240" x2="120.06318084474543" y2="241.4" stroke="#777" stroke-width="0.8"/>
<line x1="121.28745528094103" y1="240" x2="121.28745528094103" y2="241.4" stroke="#777" stroke-width="0.8"/>
<line x1="122.36734186594131" y1="240" x2="122.36734186594131" y2="241.4" stroke="#777" stroke-width="0.8"/>
<line x1="123.33333333333333" y1="240" x2="123.33333333333333" y2="242.6" stroke="#777" stroke-width="0.8"/>
<line x1="129.68841101957292" y1="240" x2="129.68841101957292" y2="241.4" stroke="#777" stroke-width="0.8"/>
<line x1="133.40589315519287" y1="240" x2="133.40589315519287" y2="241.4" stroke="#777" stroke-width="0.8"/>
<line x1="136.04348870581254" y1="240" x2="136.04348870581254" y2="241.4" stroke="#777" stroke-width="0.8"/>
<line x1="138.08936675820485" y1="240" x2="138.08936675820485" y2="241.4" stroke="#777" stroke-width="0.8"/>
<line x1="139.76097084143248" y1="240" x2="139.76097084143248" y2="241.4" stroke="#777" stroke-width="0.8"/>
<line x1="141.17429195585652" y1="240" x2="141.17429195585652" y2="241.4" stroke="#777" stroke-width="0.8"/>
<line x1="142.39856639205215" y1="240" x2="142.39856639205215" y2="241.4" stroke="#777" stroke-width="0.8"/>
<line x1="143.4784529770524" y1="240" x2="143.4784529770524" y2="241.4" stroke="#777" stroke-width="0.8"/>
<line x1="144.44444444444446" y1="240" x2="144.44444444444446" y2="242.6" stroke="#777" stroke-width="0.8"/>
<line x1="150.79952213068407" y1="240" x2="150.79952213068407" y2="241.4" stroke="#777" stroke-width="0.8"/>
<rect x="168.5" y="138" width="94.5" height="102" fill="none" stroke="#8a8a8a" stroke-width="1.1"/>
<line x1="166.5" y1="220.6" x2="168.5" y2="220.6" stroke="#666" stroke-width="1.0"/>
<line x1="166.5" y1="201.2" x2="168.5" y2="201.2" stroke="#666" stroke-width="1.0"/>
<line x1="166.5" y1="181.8" x2="168.5" y2="181.8" stroke="#666" stroke-width="1.0"/>
<line x1="166.5" y1="162.4" x2="168.5" y2="162.4" stroke="#666" stroke-width="1.0"/>
<line x1="166.5" y1="143.0" x2="168.5" y2="143.0" stroke="#666" stroke-width="1.0"/>
<line x1="170.5" y1="240" x2="170.5" y2="242.6" stroke="#777" stroke-width="0.8"/>
<line x1="176.8216299089436" y1="240" x2="176.8216299089436" y2="241.4" stroke="#777" stroke-width="0.8"/>
<line x1="180.51954634911291" y1="240" x2="180.51954634911291" y2="241.4" stroke="#777" stroke-width="0.8"/>
<line x1="183.1432598178872" y1="240" x2="183.1432598178872" y2="241.4" stroke="#777" stroke-width="0.8"/>
<line x1="185.1783700910564" y1="240" x2="185.1783700910564" y2="241.4" stroke="#777" stroke-width="0.8"/>
<line x1="186.84117625805652" y1="240" x2="186.84117625805652" y2="241.4" stroke="#777" stroke-width="0.8"/>
<line x1="188.2470588402994" y1="240" x2="188.2470588402994" y2="241.4" stroke="#777" stroke-width="0.8"/>
<line x1="189.46488972683082" y1="240" x2="189.46488972683082" y2="241.4" stroke="#777" stroke-width="0.8"/>
<line x1="190.53909269822583" y1="240" x2="190.53909269822583" y2="241.4" stroke="#777" stroke-width="0.8"/>
<line x1="191.5" y1="240" x2="191.5" y2="242.6" stroke="#777" stroke-width="0.8"/>
<line x1="197.8216299089436" y1="240" x2="197.8216299089436" y2="241.4" stroke="#777" stroke-width="0.8"/>
<line x1="201.51954634911291" y1="240" x2="201.51954634911291" y2="241.4" stroke="#777" stroke-width="0.8"/>
<line x1="204.1432598178872" y1="240" x2="204.1432598178872" y2="241.4" stroke="#777" stroke-width="0.8"/>
<line x1="206.1783700910564" y1="240" x2="206.1783700910564" y2="241.4" stroke="#777" stroke-width="0.8"/>
<line x1="207.84117625805652" y1="240" x2="207.84117625805652" y2="241.4" stroke="#777" stroke-width="0.8"/>
<line x1="209.2470588402994" y1="240" x2="209.2470588402994" y2="241.4" stroke="#777" stroke-width="0.8"/>
<line x1="210.46488972683082" y1="240" x2="210.46488972683082" y2="241.4" stroke="#777" stroke-width="0.8"/>
<line x1="211.53909269822583" y1="240" x2="211.53909269822583" y2="241.4" stroke="#777" stroke-width="0.8"/>
<line x1="212.5" y1="240" x2="212.5" y2="242.6" stroke="#777" stroke-width="0.8"/>
<line x1="218.8216299089436" y1="240" x2="218.8216299089436" y2="241.4" stroke="#777" stroke-width="0.8"/>
<line x1="222.51954634911291" y1="240" x2="222.51954634911291" y2="241.4" stroke="#777" stroke-width="0.8"/>
<line x1="225.1432598178872" y1="240" x2="225.1432598178872" y2="241.4" stroke="#777" stroke-width="0.8"/>
<line x1="227.1783700910564" y1="240" x2="227.1783700910564" y2="241.4" stroke="#777" stroke-width="0.8"/>
<line x1="228.84117625805652" y1="240" x2="228.84117625805652" y2="241.4" stroke="#777" stroke-width="0.8"/>
<line x1="230.2470588402994" y1="240" x2="230.2470588402994" y2="241.4" stroke="#777" stroke-width="0.8"/>
<line x1="231.46488972683082" y1="240" x2="231.46488972683082" y2="241.4" stroke="#777" stroke-width="0.8"/>
<line x1="232.53909269822583" y1="240" x2="232.53909269822583" y2="241.4" stroke="#777" stroke-width="0.8"/>
<line x1="233.5" y1="240" x2="233.5" y2="242.6" stroke="#777" stroke-width="0.8"/>
<line x1="239.8216299089436" y1="240" x2="239.8216299089436" y2="241.4" stroke="#777" stroke-width="0.8"/>
<line x1="243.51954634911291" y1="240" x2="243.51954634911291" y2="241.4" stroke="#777" stroke-width="0.8"/>
<line x1="246.1432598178872" y1="240" x2="246.1432598178872" y2="241.4" stroke="#777" stroke-width="0.8"/>
<line x1="248.1783700910564" y1="240" x2="248.1783700910564" y2="241.4" stroke="#777" stroke-width="0.8"/>
<line x1="249.84117625805652" y1="240" x2="249.84117625805652" y2="241.4" stroke="#777" stroke-width="0.8"/>
<line x1="251.2470588402994" y1="240" x2="251.2470588402994" y2="241.4" stroke="#777" stroke-width="0.8"/>
<line x1="252.46488972683082" y1="240" x2="252.46488972683082" y2="241.4" stroke="#777" stroke-width="0.8"/>
<line x1="253.53909269822583" y1="240" x2="253.53909269822583" y2="241.4" stroke="#777" stroke-width="0.8"/>
<line x1="254.5" y1="240" x2="254.5" y2="242.6" stroke="#777" stroke-width="0.8"/>
<line x1="260.8216299089436" y1="240" x2="260.8216299089436" y2="241.4" stroke="#777" stroke-width="0.8"/>
<rect x="279.5" y="138" width="94.5" height="102" fill="none" stroke="#8a8a8a" stroke-width="1.1"/>
<line x1="277.5" y1="220.6" x2="279.5" y2="220.6" stroke="#666" stroke-width="1.0"/>
<line x1="277.5" y1="201.2" x2="279.5" y2="201.2" stroke="#666" stroke-width="1.0"/>
<line x1="277.5" y1="181.8" x2="279.5" y2="181.8" stroke="#666" stroke-width="1.0"/>
<line x1="277.5" y1="162.4" x2="279.5" y2="162.4" stroke="#666" stroke-width="1.0"/>
<line x1="277.5" y1="143.0" x2="279.5" y2="143.0" stroke="#666" stroke-width="1.0"/>
<line x1="281.5" y1="240" x2="281.5" y2="242.6" stroke="#777" stroke-width="0.8"/>
<line x1="287.8216299089436" y1="240" x2="287.8216299089436" y2="241.4" stroke="#777" stroke-width="0.8"/>
<line x1="291.5195463491129" y1="240" x2="291.5195463491129" y2="241.4" stroke="#777" stroke-width="0.8"/>
<line x1="294.1432598178872" y1="240" x2="294.1432598178872" y2="241.4" stroke="#777" stroke-width="0.8"/>
<line x1="296.1783700910564" y1="240" x2="296.1783700910564" y2="241.4" stroke="#777" stroke-width="0.8"/>
<line x1="297.8411762580565" y1="240" x2="297.8411762580565" y2="241.4" stroke="#777" stroke-width="0.8"/>
<line x1="299.2470588402994" y1="240" x2="299.2470588402994" y2="241.4" stroke="#777" stroke-width="0.8"/>
<line x1="300.4648897268308" y1="240" x2="300.4648897268308" y2="241.4" stroke="#777" stroke-width="0.8"/>
<line x1="301.53909269822583" y1="240" x2="301.53909269822583" y2="241.4" stroke="#777" stroke-width="0.8"/>
<line x1="302.5" y1="240" x2="302.5" y2="242.6" stroke="#777" stroke-width="0.8"/>
<line x1="308.8216299089436" y1="240" x2="308.8216299089436" y2="241.4" stroke="#777" stroke-width="0.8"/>
<line x1="312.5195463491129" y1="240" x2="312.5195463491129" y2="241.4" stroke="#777" stroke-width="0.8"/>
<line x1="315.1432598178872" y1="240" x2="315.1432598178872" y2="241.4" stroke="#777" stroke-width="0.8"/>
<line x1="317.1783700910564" y1="240" x2="317.1783700910564" y2="241.4" stroke="#777" stroke-width="0.8"/>
<line x1="318.8411762580565" y1="240" x2="318.8411762580565" y2="241.4" stroke="#777" stroke-width="0.8"/>
<line x1="320.2470588402994" y1="240" x2="320.2470588402994" y2="241.4" stroke="#777" stroke-width="0.8"/>
<line x1="321.4648897268308" y1="240" x2="321.4648897268308" y2="241.4" stroke="#777" stroke-width="0.8"/>
<line x1="322.53909269822583" y1="240" x2="322.53909269822583" y2="241.4" stroke="#777" stroke-width="0.8"/>
<line x1="323.5" y1="240" x2="323.5" y2="242.6" stroke="#777" stroke-width="0.8"/>
<line x1="329.8216299089436" y1="240" x2="329.8216299089436" y2="241.4" stroke="#777" stroke-width="0.8"/>
<line x1="333.5195463491129" y1="240" x2="333.5195463491129" y2="241.4" stroke="#777" stroke-width="0.8"/>
<line x1="336.1432598178872" y1="240" x2="336.1432598178872" y2="241.4" stroke="#777" stroke-width="0.8"/>
<line x1="338.1783700910564" y1="240" x2="338.1783700910564" y2="241.4" stroke="#777" stroke-width="0.8"/>
<line x1="339.8411762580565" y1="240" x2="339.8411762580565" y2="241.4" stroke="#777" stroke-width="0.8"/>
<line x1="341.2470588402994" y1="240" x2="341.2470588402994" y2="241.4" stroke="#777" stroke-width="0.8"/>
<line x1="342.4648897268308" y1="240" x2="342.4648897268308" y2="241.4" stroke="#777" stroke-width="0.8"/>
<line x1="343.53909269822583" y1="240" x2="343.53909269822583" y2="241.4" stroke="#777" stroke-width="0.8"/>
<line x1="344.5" y1="240" x2="344.5" y2="242.6" stroke="#777" stroke-width="0.8"/>
<line x1="350.8216299089436" y1="240" x2="350.8216299089436" y2="241.4" stroke="#777" stroke-width="0.8"/>
<line x1="354.5195463491129" y1="240" x2="354.5195463491129" y2="241.4" stroke="#777" stroke-width="0.8"/>
<line x1="357.1432598178872" y1="240" x2="357.1432598178872" y2="241.4" stroke="#777" stroke-width="0.8"/>
<line x1="359.1783700910564" y1="240" x2="359.1783700910564" y2="241.4" stroke="#777" stroke-width="0.8"/>
<line x1="360.8411762580565" y1="240" x2="360.8411762580565" y2="241.4" stroke="#777" stroke-width="0.8"/>
<line x1="362.2470588402994" y1="240" x2="362.2470588402994" y2="241.4" stroke="#777" stroke-width="0.8"/>
<line x1="363.4648897268308" y1="240" x2="363.4648897268308" y2="241.4" stroke="#777" stroke-width="0.8"/>
<line x1="364.53909269822583" y1="240" x2="364.53909269822583" y2="241.4" stroke="#777" stroke-width="0.8"/>
<line x1="365.5" y1="240" x2="365.5" y2="242.6" stroke="#777" stroke-width="0.8"/>
<line x1="371.8216299089436" y1="240" x2="371.8216299089436" y2="241.4" stroke="#777" stroke-width="0.8"/>
<text x="2.5" y="59" font-size="11" fill="#000">Control</text>
<text x="15.6" y="175.1" font-size="11" fill="#000">IFN&#947;</text>
<line x1="45.75" y1="26.5" x2="45.75" y2="191.5" stroke="#222" stroke-width="1.2"/>
<path d="M42.55,28.5 L45.75,21.5 L48.95,28.5 Z" fill="#111" stroke="none" stroke-width="1"/>
<text x="49.8" y="241.6" font-size="11" font-weight="bold" transform="rotate(-90 49.8 241.6)" fill="#000">% of max</text>
<text x="60.8" y="258.4" font-size="11.2" font-weight="bold" fill="#000">pSTAT3</text>
<line x1="106" y1="254.5" x2="370.2" y2="254.5" stroke="#222" stroke-width="1.2"/>
<path d="M368.2,251.3 L375.2,254.5 L368.2,257.7 Z" fill="#111" stroke="none" stroke-width="1"/>
<line x1="386" y1="39.5" x2="399" y2="39.5" stroke="#000" stroke-width="2.2"/>
<text x="407" y="43" font-size="11" fill="#000">G-CSF</text>
<rect x="386" y="54" width="13" height="5.5" fill="#939393" stroke="none" stroke-width="1"/>
<text x="406.3" y="59.3" font-size="11" fill="#000">Unstimulated</text>
<text x="27.9" y="293.4" font-size="16.5" font-weight="bold" fill="#000">B</text>
<text x="104.3" y="299" font-size="11.3" text-anchor="middle" fill="#000">Total BM</text>
<rect x="59.25" y="304.25" width="92.5" height="100.75" fill="none" stroke="#8a8a8a" stroke-width="1.1"/>
<line x1="59.25" y1="304.25" x2="59.25" y2="405" stroke="#222" stroke-width="1.2"/>
<line x1="57.25" y1="385.6" x2="59.25" y2="385.6" stroke="#666" stroke-width="1.0"/>
<line x1="57.25" y1="366.2" x2="59.25" y2="366.2" stroke="#666" stroke-width="1.0"/>
<line x1="57.25" y1="346.8" x2="59.25" y2="346.8" stroke="#666" stroke-width="1.0"/>
<line x1="57.25" y1="327.4" x2="59.25" y2="327.4" stroke="#666" stroke-width="1.0"/>
<line x1="57.25" y1="308.0" x2="59.25" y2="308.0" stroke="#666" stroke-width="1.0"/>
<line x1="61.25" y1="405" x2="61.25" y2="407.6" stroke="#777" stroke-width="0.8"/>
<line x1="67.43783879975962" y1="405" x2="67.43783879975962" y2="406.4" stroke="#777" stroke-width="0.8"/>
<line x1="71.05749245812639" y1="405" x2="71.05749245812639" y2="406.4" stroke="#777" stroke-width="0.8"/>
<line x1="73.62567759951924" y1="405" x2="73.62567759951924" y2="406.4" stroke="#777" stroke-width="0.8"/>
<line x1="75.61771675579594" y1="405" x2="75.61771675579594" y2="406.4" stroke="#777" stroke-width="0.8"/>
<line x1="77.24533125788601" y1="405" x2="77.24533125788601" y2="406.4" stroke="#777" stroke-width="0.8"/>
<line x1="78.62145971140417" y1="405" x2="78.62145971140417" y2="406.4" stroke="#777" stroke-width="0.8"/>
<line x1="79.81351639927884" y1="405" x2="79.81351639927884" y2="406.4" stroke="#777" stroke-width="0.8"/>
<line x1="80.8649849162528" y1="405" x2="80.8649849162528" y2="406.4" stroke="#777" stroke-width="0.8"/>
<line x1="81.80555555555556" y1="405" x2="81.80555555555556" y2="407.6" stroke="#777" stroke-width="0.8"/>
<line x1="87.99339435531517" y1="405" x2="87.99339435531517" y2="406.4" stroke="#777" stroke-width="0.8"/>
<line x1="91.61304801368195" y1="405" x2="91.61304801368195" y2="406.4" stroke="#777" stroke-width="0.8"/>
<line x1="94.18123315507478" y1="405" x2="94.18123315507478" y2="406.4" stroke="#777" stroke-width="0.8"/>
<line x1="96.1732723113515" y1="405" x2="96.1732723113515" y2="406.4" stroke="#777" stroke-width="0.8"/>
<line x1="97.80088681344156" y1="405" x2="97.80088681344156" y2="406.4" stroke="#777" stroke-width="0.8"/>
<line x1="99.17701526695973" y1="405" x2="99.17701526695973" y2="406.4" stroke="#777" stroke-width="0.8"/>
<line x1="100.3690719548344" y1="405" x2="100.3690719548344" y2="406.4" stroke="#777" stroke-width="0.8"/>
<line x1="101.42054047180835" y1="405" x2="101.42054047180835" y2="406.4" stroke="#777" stroke-width="0.8"/>
<line x1="102.36111111111111" y1="405" x2="102.36111111111111" y2="407.6" stroke="#777" stroke-width="0.8"/>
<line x1="108.54894991087073" y1="405" x2="108.54894991087073" y2="406.4" stroke="#777" stroke-width="0.8"/>
<line x1="112.1686035692375" y1="405" x2="112.1686035692375" y2="406.4" stroke="#777" stroke-width="0.8"/>
<line x1="114.73678871063035" y1="405" x2="114.73678871063035" y2="406.4" stroke="#777" stroke-width="0.8"/>
<line x1="116.72882786690705" y1="405" x2="116.72882786690705" y2="406.4" stroke="#777" stroke-width="0.8"/>
<line x1="118.35644236899712" y1="405" x2="118.35644236899712" y2="406.4" stroke="#777" stroke-width="0.8"/>
<line x1="119.73257082251529" y1="405" x2="119.73257082251529" y2="406.4" stroke="#777" stroke-width="0.8"/>
<line x1="120.92462751038995" y1="405" x2="120.92462751038995" y2="406.4" stroke="#777" stroke-width="0.8"/>
<line x1="121.97609602736391" y1="405" x2="121.97609602736391" y2="406.4" stroke="#777" stroke-width="0.8"/>
<line x1="122.91666666666667" y1="405" x2="122.91666666666667" y2="407.6" stroke="#777" stroke-width="0.8"/>
<line x1="129.10450546642628" y1="405" x2="129.10450546642628" y2="406.4" stroke="#777" stroke-width="0.8"/>
<line x1="132.72415912479306" y1="405" x2="132.72415912479306" y2="406.4" stroke="#777" stroke-width="0.8"/>
<line x1="135.2923442661859" y1="405" x2="135.2923442661859" y2="406.4" stroke="#777" stroke-width="0.8"/>
<line x1="137.2843834224626" y1="405" x2="137.2843834224626" y2="406.4" stroke="#777" stroke-width="0.8"/>
<line x1="138.91199792455268" y1="405" x2="138.91199792455268" y2="406.4" stroke="#777" stroke-width="0.8"/>
<line x1="140.28812637807084" y1="405" x2="140.28812637807084" y2="406.4" stroke="#777" stroke-width="0.8"/>
<line x1="141.4801830659455" y1="405" x2="141.4801830659455" y2="406.4" stroke="#777" stroke-width="0.8"/>
<line x1="142.53165158291947" y1="405" x2="142.53165158291947" y2="406.4" stroke="#777" stroke-width="0.8"/>
<line x1="143.47222222222223" y1="405" x2="143.47222222222223" y2="407.6" stroke="#777" stroke-width="0.8"/>
<line x1="149.66006102198185" y1="405" x2="149.66006102198185" y2="406.4" stroke="#777" stroke-width="0.8"/>
<line x1="59.25" y1="304.25" x2="151.75" y2="304.25" stroke="#555" stroke-width="1.1"/>
<text x="208.7" y="299" font-size="11" text-anchor="middle" fill="#000">GMPs</text>
<rect x="161.25" y="304.25" width="91.25" height="100.75" fill="none" stroke="#8a8a8a" stroke-width="1.1"/>
<line x1="161.25" y1="304.25" x2="161.25" y2="405" stroke="#222" stroke-width="1.2"/>
<line x1="159.25" y1="385.6" x2="161.25" y2="385.6" stroke="#666" stroke-width="1.0"/>
<line x1="159.25" y1="366.2" x2="161.25" y2="366.2" stroke="#666" stroke-width="1.0"/>
<line x1="159.25" y1="346.8" x2="161.25" y2="346.8" stroke="#666" stroke-width="1.0"/>
<line x1="159.25" y1="327.4" x2="161.25" y2="327.4" stroke="#666" stroke-width="1.0"/>
<line x1="159.25" y1="308.0" x2="161.25" y2="308.0" stroke="#666" stroke-width="1.0"/>
<line x1="163.25" y1="405" x2="163.25" y2="407.6" stroke="#777" stroke-width="0.8"/>
<line x1="169.35421935651962" y1="405" x2="169.35421935651962" y2="406.4" stroke="#777" stroke-width="0.8"/>
<line x1="172.9249587762598" y1="405" x2="172.9249587762598" y2="406.4" stroke="#777" stroke-width="0.8"/>
<line x1="175.45843871303924" y1="405" x2="175.45843871303924" y2="406.4" stroke="#777" stroke-width="0.8"/>
<line x1="177.42355842125815" y1="405" x2="177.42355842125815" y2="406.4" stroke="#777" stroke-width="0.8"/>
<line x1="179.02917813277944" y1="405" x2="179.02917813277944" y2="406.4" stroke="#777" stroke-width="0.8"/>
<line x1="180.38671025584466" y1="405" x2="180.38671025584466" y2="406.4" stroke="#777" stroke-width="0.8"/>
<line x1="181.56265806955886" y1="405" x2="181.56265806955886" y2="406.4" stroke="#777" stroke-width="0.8"/>
<line x1="182.59991755251966" y1="405" x2="182.59991755251966" y2="406.4" stroke="#777" stroke-width="0.8"/>
<line x1="183.52777777777777" y1="405" x2="183.52777777777777" y2="407.6" stroke="#777" stroke-width="0.8"/>
<line x1="189.6319971342974" y1="405" x2="189.6319971342974" y2="406.4" stroke="#777" stroke-width="0.8"/>
<line x1="193.20273655403759" y1="405" x2="193.20273655403759" y2="406.4" stroke="#777" stroke-width="0.8"/>
<line x1="195.73621649081701" y1="405" x2="195.73621649081701" y2="406.4" stroke="#777" stroke-width="0.8"/>
<line x1="197.70133619903592" y1="405" x2="197.70133619903592" y2="406.4" stroke="#777" stroke-width="0.8"/>
<line x1="199.3069559105572" y1="405" x2="199.3069559105572" y2="406.4" stroke="#777" stroke-width="0.8"/>
<line x1="200.66448803362243" y1="405" x2="200.66448803362243" y2="406.4" stroke="#777" stroke-width="0.8"/>
<line x1="201.84043584733664" y1="405" x2="201.84043584733664" y2="406.4" stroke="#777" stroke-width="0.8"/>
<line x1="202.87769533029743" y1="405" x2="202.87769533029743" y2="406.4" stroke="#777" stroke-width="0.8"/>
<line x1="203.80555555555554" y1="405" x2="203.80555555555554" y2="407.6" stroke="#777" stroke-width="0.8"/>
<line x1="209.90977491207516" y1="405" x2="209.90977491207516" y2="406.4" stroke="#777" stroke-width="0.8"/>
<line x1="213.48051433181536" y1="405" x2="213.48051433181536" y2="406.4" stroke="#777" stroke-width="0.8"/>
<line x1="216.0139942685948" y1="405" x2="216.0139942685948" y2="406.4" stroke="#777" stroke-width="0.8"/>
<line x1="217.9791139768137" y1="405" x2="217.9791139768137" y2="406.4" stroke="#777" stroke-width="0.8"/>
<line x1="219.58473368833498" y1="405" x2="219.58473368833498" y2="406.4" stroke="#777" stroke-width="0.8"/>
<line x1="220.9422658114002" y1="405" x2="220.9422658114002" y2="406.4" stroke="#777" stroke-width="0.8"/>
<line x1="222.1182136251144" y1="405" x2="222.1182136251144" y2="406.4" stroke="#777" stroke-width="0.8"/>
<line x1="223.1554731080752" y1="405" x2="223.1554731080752" y2="406.4" stroke="#777" stroke-width="0.8"/>
<line x1="224.08333333333334" y1="405" x2="224.08333333333334" y2="407.6" stroke="#777" stroke-width="0.8"/>
<line x1="230.18755268985296" y1="405" x2="230.18755268985296" y2="406.4" stroke="#777" stroke-width="0.8"/>
<line x1="233.75829210959316" y1="405" x2="233.75829210959316" y2="406.4" stroke="#777" stroke-width="0.8"/>
<line x1="236.29177204637259" y1="405" x2="236.29177204637259" y2="406.4" stroke="#777" stroke-width="0.8"/>
<line x1="238.2568917545915" y1="405" x2="238.2568917545915" y2="406.4" stroke="#777" stroke-width="0.8"/>
<line x1="239.86251146611278" y1="405" x2="239.86251146611278" y2="406.4" stroke="#777" stroke-width="0.8"/>
<line x1="241.220043589178" y1="405" x2="241.220043589178" y2="406.4" stroke="#777" stroke-width="0.8"/>
<line x1="242.3959914028922" y1="405" x2="242.3959914028922" y2="406.4" stroke="#777" stroke-width="0.8"/>
<line x1="243.433250885853" y1="405" x2="243.433250885853" y2="406.4" stroke="#777" stroke-width="0.8"/>
<line x1="244.36111111111111" y1="405" x2="244.36111111111111" y2="407.6" stroke="#777" stroke-width="0.8"/>
<line x1="250.46533046763074" y1="405" x2="250.46533046763074" y2="406.4" stroke="#777" stroke-width="0.8"/>
<line x1="161.25" y1="304.25" x2="252.5" y2="304.25" stroke="#555" stroke-width="1.1"/>
<text x="50.6" y="382.8" font-size="11" font-weight="bold" transform="rotate(-90 50.6 382.8)" fill="#000">% of max</text>
<text x="58.9" y="421.3" font-size="11.3" font-weight="bold" fill="#000">pSTAT3</text>
<line x1="111" y1="417.8" x2="255.7" y2="417.8" stroke="#222" stroke-width="1.2"/>
<path d="M253.7,414.6 L260.7,417.8 L253.7,421.0 Z" fill="#111" stroke="none" stroke-width="1"/>
<line x1="265" y1="327" x2="278" y2="327" stroke="#000" stroke-width="2.4"/>
<text x="287" y="330.5" font-size="11" fill="#000">G-CSF</text>
<line x1="265" y1="343.75" x2="278" y2="343.75" stroke="#000" stroke-width="1.0"/>
<text x="287" y="347" font-size="11" fill="#000">IFN&#947; + G-CSF</text>
<rect x="265" y="358" width="13" height="5.75" fill="#939393" stroke="none" stroke-width="1"/>
<text x="287" y="364" font-size="11" fill="#000">Unstimulated</text>
<text x="362.4" y="293.3" font-size="16.5" font-weight="bold" fill="#000">C</text>
<rect x="396.5" y="302" width="69.5" height="103.30000000000001" fill="none" stroke="#111" stroke-width="1.2"/>
<line x1="393.5" y1="405.3" x2="396.5" y2="405.3" stroke="#111" stroke-width="1.1"/>
<text x="392.8" y="408.40000000000003" font-size="8.6" font-weight="bold" text-anchor="end" fill="#000">0</text>
<line x1="393.5" y1="384.64" x2="396.5" y2="384.64" stroke="#111" stroke-width="1.1"/>
<text x="392.8" y="387.74" font-size="8.6" font-weight="bold" text-anchor="end" fill="#000">5</text>
<line x1="393.5" y1="363.98" x2="396.5" y2="363.98" stroke="#111" stroke-width="1.1"/>
<text x="392.8" y="367.08000000000004" font-size="8.6" font-weight="bold" text-anchor="end" fill="#000">10</text>
<line x1="393.5" y1="343.32" x2="396.5" y2="343.32" stroke="#111" stroke-width="1.1"/>
<text x="392.8" y="346.42" font-size="8.6" font-weight="bold" text-anchor="end" fill="#000">15</text>
<line x1="393.5" y1="322.66" x2="396.5" y2="322.66" stroke="#111" stroke-width="1.1"/>
<text x="392.8" y="325.76000000000005" font-size="8.6" font-weight="bold" text-anchor="end" fill="#000">20</text>
<line x1="393.5" y1="302.0" x2="396.5" y2="302.0" stroke="#111" stroke-width="1.1"/>
<text x="392.8" y="305.1" font-size="8.6" font-weight="bold" text-anchor="end" fill="#000">25</text>
<line x1="431.5" y1="405.3" x2="431.5" y2="408.90000000000003" stroke="#111" stroke-width="1.1"/>
<rect x="402.6" y="401.168" width="22.8" height="4.132000000000005" fill="#fff" stroke="#000" stroke-width="1.2"/>
<line x1="408" y1="400.76800000000003" x2="420.4" y2="400.76800000000003" stroke="#000" stroke-width="1.2"/>
<rect x="436.8" y="322.66" width="23.5" height="82.63999999999999" fill="#000" stroke="none" stroke-width="1"/>
<line x1="448.5" y1="322.66" x2="448.5" y2="315.6" stroke="#000" stroke-width="1.2"/>
<line x1="442.5" y1="315.6" x2="454.3" y2="315.6" stroke="#000" stroke-width="1.3"/>
<polygon points="442.50,307.70 443.29,309.61 445.35,309.77 443.78,311.12 444.26,313.13 442.50,312.05 440.74,313.13 441.22,311.12 439.65,309.77 441.71,309.61" fill="#000"/>
<polygon points="448.80,307.70 449.59,309.61 451.65,309.77 450.08,311.12 450.56,313.13 448.80,312.05 447.04,313.13 447.52,311.12 445.95,309.77 448.01,309.61" fill="#000"/>
<polygon points="455.00,307.70 455.79,309.61 457.85,309.77 456.28,311.12 456.76,313.13 455.00,312.05 453.24,313.13 453.72,311.12 452.15,309.77 454.21,309.61" fill="#000"/>
<text x="378.8" y="349.7" font-size="8.2" font-weight="bold" text-anchor="middle" transform="rotate(-90 378.8 349.7)" fill="#000">Relative SOCS3 expression</text>
<rect x="472.6" y="306.5" width="12.3" height="6.5" fill="#fff" stroke="#000" stroke-width="1.1"/>
<text x="490.3" y="313" font-size="8.3" fill="#000">Control</text>
<rect x="472.4" y="319.8" width="12.6" height="6.9" fill="#000" stroke="none" stroke-width="1"/>
<text x="490.3" y="326.5" font-size="8.3" fill="#000">IFN&#947;</text>
<text x="27.9" y="463.4" font-size="16.5" font-weight="bold" fill="#000">D</text>
<text x="100.7" y="476.9" font-size="11" text-anchor="middle" fill="#000">WT</text>
<rect x="57.5" y="481.25" width="92.0" height="100.25" fill="none" stroke="#8a8a8a" stroke-width="1.1"/>
<line x1="55.5" y1="562.1" x2="57.5" y2="562.1" stroke="#666" stroke-width="1.0"/>
<line x1="55.5" y1="542.7" x2="57.5" y2="542.7" stroke="#666" stroke-width="1.0"/>
<line x1="55.5" y1="523.3" x2="57.5" y2="523.3" stroke="#666" stroke-width="1.0"/>
<line x1="55.5" y1="503.9" x2="57.5" y2="503.9" stroke="#666" stroke-width="1.0"/>
<line x1="55.5" y1="484.5" x2="57.5" y2="484.5" stroke="#666" stroke-width="1.0"/>
<line x1="59.5" y1="581.5" x2="59.5" y2="584.1" stroke="#777" stroke-width="0.8"/>
<line x1="65.65439102246361" y1="581.5" x2="65.65439102246361" y2="582.9" stroke="#777" stroke-width="0.8"/>
<line x1="69.25447898537976" y1="581.5" x2="69.25447898537976" y2="582.9" stroke="#777" stroke-width="0.8"/>
<line x1="71.80878204492723" y1="581.5" x2="71.80878204492723" y2="582.9" stroke="#777" stroke-width="0.8"/>
<line x1="73.79005342198083" y1="581.5" x2="73.79005342198083" y2="582.9" stroke="#777" stroke-width="0.8"/>
<line x1="75.40887000784338" y1="581.5" x2="75.40887000784338" y2="582.9" stroke="#777" stroke-width="0.8"/>
<line x1="76.77755992918036" y1="581.5" x2="76.77755992918036" y2="582.9" stroke="#777" stroke-width="0.8"/>
<line x1="77.96317306739084" y1="581.5" x2="77.96317306739084" y2="582.9" stroke="#777" stroke-width="0.8"/>
<line x1="79.00895797075952" y1="581.5" x2="79.00895797075952" y2="582.9" stroke="#777" stroke-width="0.8"/>
<line x1="79.94444444444444" y1="581.5" x2="79.94444444444444" y2="584.1" stroke="#777" stroke-width="0.8"/>
<line x1="86.09883546690806" y1="581.5" x2="86.09883546690806" y2="582.9" stroke="#777" stroke-width="0.8"/>
<line x1="89.6989234298242" y1="581.5" x2="89.6989234298242" y2="582.9" stroke="#777" stroke-width="0.8"/>
<line x1="92.25322648937167" y1="581.5" x2="92.25322648937167" y2="582.9" stroke="#777" stroke-width="0.8"/>
<line x1="94.23449786642527" y1="581.5" x2="94.23449786642527" y2="582.9" stroke="#777" stroke-width="0.8"/>
<line x1="95.85331445228782" y1="581.5" x2="95.85331445228782" y2="582.9" stroke="#777" stroke-width="0.8"/>
<line x1="97.2220043736248" y1="581.5" x2="97.2220043736248" y2="582.9" stroke="#777" stroke-width="0.8"/>
<line x1="98.40761751183528" y1="581.5" x2="98.40761751183528" y2="582.9" stroke="#777" stroke-width="0.8"/>
<line x1="99.45340241520397" y1="581.5" x2="99.45340241520397" y2="582.9" stroke="#777" stroke-width="0.8"/>
<line x1="100.38888888888889" y1="581.5" x2="100.38888888888889" y2="584.1" stroke="#777" stroke-width="0.8"/>
<line x1="106.5432799113525" y1="581.5" x2="106.5432799113525" y2="582.9" stroke="#777" stroke-width="0.8"/>
<line x1="110.14336787426865" y1="581.5" x2="110.14336787426865" y2="582.9" stroke="#777" stroke-width="0.8"/>
<line x1="112.69767093381611" y1="581.5" x2="112.69767093381611" y2="582.9" stroke="#777" stroke-width="0.8"/>
<line x1="114.67894231086972" y1="581.5" x2="114.67894231086972" y2="582.9" stroke="#777" stroke-width="0.8"/>
<line x1="116.29775889673226" y1="581.5" x2="116.29775889673226" y2="582.9" stroke="#777" stroke-width="0.8"/>
<line x1="117.66644881806924" y1="581.5" x2="117.66644881806924" y2="582.9" stroke="#777" stroke-width="0.8"/>
<line x1="118.85206195627973" y1="581.5" x2="118.85206195627973" y2="582.9" stroke="#777" stroke-width="0.8"/>
<line x1="119.89784685964841" y1="581.5" x2="119.89784685964841" y2="582.9" stroke="#777" stroke-width="0.8"/>
<line x1="120.83333333333333" y1="581.5" x2="120.83333333333333" y2="584.1" stroke="#777" stroke-width="0.8"/>
<line x1="126.98772435579694" y1="581.5" x2="126.98772435579694" y2="582.9" stroke="#777" stroke-width="0.8"/>
<line x1="130.5878123187131" y1="581.5" x2="130.5878123187131" y2="582.9" stroke="#777" stroke-width="0.8"/>
<line x1="133.14211537826057" y1="581.5" x2="133.14211537826057" y2="582.9" stroke="#777" stroke-width="0.8"/>
<line x1="135.12338675531416" y1="581.5" x2="135.12338675531416" y2="582.9" stroke="#777" stroke-width="0.8"/>
<line x1="136.74220334117672" y1="581.5" x2="136.74220334117672" y2="582.9" stroke="#777" stroke-width="0.8"/>
<line x1="138.11089326251368" y1="581.5" x2="138.11089326251368" y2="582.9" stroke="#777" stroke-width="0.8"/>
<line x1="139.29650640072418" y1="581.5" x2="139.29650640072418" y2="582.9" stroke="#777" stroke-width="0.8"/>
<line x1="140.34229130409287" y1="581.5" x2="140.34229130409287" y2="582.9" stroke="#777" stroke-width="0.8"/>
<line x1="141.27777777777777" y1="581.5" x2="141.27777777777777" y2="584.1" stroke="#777" stroke-width="0.8"/>
<line x1="147.43216880024139" y1="581.5" x2="147.43216880024139" y2="582.9" stroke="#777" stroke-width="0.8"/>
<text x="209.4" y="476.9" font-size="11" text-anchor="middle" fill="#000">mNull</text>
<rect x="164.25" y="481.25" width="92.0" height="100.25" fill="none" stroke="#8a8a8a" stroke-width="1.1"/>
<line x1="162.25" y1="562.1" x2="164.25" y2="562.1" stroke="#666" stroke-width="1.0"/>
<line x1="162.25" y1="542.7" x2="164.25" y2="542.7" stroke="#666" stroke-width="1.0"/>
<line x1="162.25" y1="523.3" x2="164.25" y2="523.3" stroke="#666" stroke-width="1.0"/>
<line x1="162.25" y1="503.9" x2="164.25" y2="503.9" stroke="#666" stroke-width="1.0"/>
<line x1="162.25" y1="484.5" x2="164.25" y2="484.5" stroke="#666" stroke-width="1.0"/>
<line x1="166.25" y1="581.5" x2="166.25" y2="584.1" stroke="#777" stroke-width="0.8"/>
<line x1="172.4043910224636" y1="581.5" x2="172.4043910224636" y2="582.9" stroke="#777" stroke-width="0.8"/>
<line x1="176.00447898537976" y1="581.5" x2="176.00447898537976" y2="582.9" stroke="#777" stroke-width="0.8"/>
<line x1="178.55878204492723" y1="581.5" x2="178.55878204492723" y2="582.9" stroke="#777" stroke-width="0.8"/>
<line x1="180.54005342198082" y1="581.5" x2="180.54005342198082" y2="582.9" stroke="#777" stroke-width="0.8"/>
<line x1="182.15887000784338" y1="581.5" x2="182.15887000784338" y2="582.9" stroke="#777" stroke-width="0.8"/>
<line x1="183.52755992918037" y1="581.5" x2="183.52755992918037" y2="582.9" stroke="#777" stroke-width="0.8"/>
<line x1="184.71317306739084" y1="581.5" x2="184.71317306739084" y2="582.9" stroke="#777" stroke-width="0.8"/>
<line x1="185.75895797075952" y1="581.5" x2="185.75895797075952" y2="582.9" stroke="#777" stroke-width="0.8"/>
<line x1="186.69444444444446" y1="581.5" x2="186.69444444444446" y2="584.1" stroke="#777" stroke-width="0.8"/>
<line x1="192.84883546690807" y1="581.5" x2="192.84883546690807" y2="582.9" stroke="#777" stroke-width="0.8"/>
<line x1="196.44892342982422" y1="581.5" x2="196.44892342982422" y2="582.9" stroke="#777" stroke-width="0.8"/>
<line x1="199.00322648937168" y1="581.5" x2="199.00322648937168" y2="582.9" stroke="#777" stroke-width="0.8"/>
<line x1="200.98449786642527" y1="581.5" x2="200.98449786642527" y2="582.9" stroke="#777" stroke-width="0.8"/>
<line x1="202.60331445228783" y1="581.5" x2="202.60331445228783" y2="582.9" stroke="#777" stroke-width="0.8"/>
<line x1="203.97200437362483" y1="581.5" x2="203.97200437362483" y2="582.9" stroke="#777" stroke-width="0.8"/>
<line x1="205.1576175118353" y1="581.5" x2="205.1576175118353" y2="582.9" stroke="#777" stroke-width="0.8"/>
<line x1="206.20340241520398" y1="581.5" x2="206.20340241520398" y2="582.9" stroke="#777" stroke-width="0.8"/>
<line x1="207.13888888888889" y1="581.5" x2="207.13888888888889" y2="584.1" stroke="#777" stroke-width="0.8"/>
<line x1="213.2932799113525" y1="581.5" x2="213.2932799113525" y2="582.9" stroke="#777" stroke-width="0.8"/>
<line x1="216.89336787426865" y1="581.5" x2="216.89336787426865" y2="582.9" stroke="#777" stroke-width="0.8"/>
<line x1="219.4476709338161" y1="581.5" x2="219.4476709338161" y2="582.9" stroke="#777" stroke-width="0.8"/>
<line x1="221.42894231086973" y1="581.5" x2="221.42894231086973" y2="582.9" stroke="#777" stroke-width="0.8"/>
<line x1="223.04775889673226" y1="581.5" x2="223.04775889673226" y2="582.9" stroke="#777" stroke-width="0.8"/>
<line x1="224.41644881806926" y1="581.5" x2="224.41644881806926" y2="582.9" stroke="#777" stroke-width="0.8"/>
<line x1="225.60206195627973" y1="581.5" x2="225.60206195627973" y2="582.9" stroke="#777" stroke-width="0.8"/>
<line x1="226.6478468596484" y1="581.5" x2="226.6478468596484" y2="582.9" stroke="#777" stroke-width="0.8"/>
<line x1="227.58333333333331" y1="581.5" x2="227.58333333333331" y2="584.1" stroke="#777" stroke-width="0.8"/>
<line x1="233.73772435579693" y1="581.5" x2="233.73772435579693" y2="582.9" stroke="#777" stroke-width="0.8"/>
<line x1="237.33781231871308" y1="581.5" x2="237.33781231871308" y2="582.9" stroke="#777" stroke-width="0.8"/>
<line x1="239.89211537826054" y1="581.5" x2="239.89211537826054" y2="582.9" stroke="#777" stroke-width="0.8"/>
<line x1="241.87338675531413" y1="581.5" x2="241.87338675531413" y2="582.9" stroke="#777" stroke-width="0.8"/>
<line x1="243.4922033411767" y1="581.5" x2="243.4922033411767" y2="582.9" stroke="#777" stroke-width="0.8"/>
<line x1="244.86089326251368" y1="581.5" x2="244.86089326251368" y2="582.9" stroke="#777" stroke-width="0.8"/>
<line x1="246.04650640072416" y1="581.5" x2="246.04650640072416" y2="582.9" stroke="#777" stroke-width="0.8"/>
<line x1="247.09229130409284" y1="581.5" x2="247.09229130409284" y2="582.9" stroke="#777" stroke-width="0.8"/>
<line x1="248.02777777777777" y1="581.5" x2="248.02777777777777" y2="584.1" stroke="#777" stroke-width="0.8"/>
<line x1="254.18216880024139" y1="581.5" x2="254.18216880024139" y2="582.9" stroke="#777" stroke-width="0.8"/>
<text x="314.95" y="476.9" font-size="11" text-anchor="middle" fill="#000">D715</text>
<rect x="271.25" y="481.25" width="92.5" height="100.25" fill="none" stroke="#8a8a8a" stroke-width="1.1"/>
<line x1="269.25" y1="562.1" x2="271.25" y2="562.1" stroke="#666" stroke-width="1.0"/>
<line x1="269.25" y1="542.7" x2="271.25" y2="542.7" stroke="#666" stroke-width="1.0"/>
<line x1="269.25" y1="523.3" x2="271.25" y2="523.3" stroke="#666" stroke-width="1.0"/>
<line x1="269.25" y1="503.9" x2="271.25" y2="503.9" stroke="#666" stroke-width="1.0"/>
<line x1="269.25" y1="484.5" x2="271.25" y2="484.5" stroke="#666" stroke-width="1.0"/>
<line x1="273.25" y1="581.5" x2="273.25" y2="584.1" stroke="#777" stroke-width="0.8"/>
<line x1="279.4378387997596" y1="581.5" x2="279.4378387997596" y2="582.9" stroke="#777" stroke-width="0.8"/>
<line x1="283.0574924581264" y1="581.5" x2="283.0574924581264" y2="582.9" stroke="#777" stroke-width="0.8"/>
<line x1="285.62567759951924" y1="581.5" x2="285.62567759951924" y2="582.9" stroke="#777" stroke-width="0.8"/>
<line x1="287.6177167557959" y1="581.5" x2="287.6177167557959" y2="582.9" stroke="#777" stroke-width="0.8"/>
<line x1="289.245331257886" y1="581.5" x2="289.245331257886" y2="582.9" stroke="#777" stroke-width="0.8"/>
<line x1="290.62145971140416" y1="581.5" x2="290.62145971140416" y2="582.9" stroke="#777" stroke-width="0.8"/>
<line x1="291.81351639927885" y1="581.5" x2="291.81351639927885" y2="582.9" stroke="#777" stroke-width="0.8"/>
<line x1="292.8649849162528" y1="581.5" x2="292.8649849162528" y2="582.9" stroke="#777" stroke-width="0.8"/>
<line x1="293.80555555555554" y1="581.5" x2="293.80555555555554" y2="584.1" stroke="#777" stroke-width="0.8"/>
<line x1="299.99339435531516" y1="581.5" x2="299.99339435531516" y2="582.9" stroke="#777" stroke-width="0.8"/>
<line x1="303.6130480136819" y1="581.5" x2="303.6130480136819" y2="582.9" stroke="#777" stroke-width="0.8"/>
<line x1="306.1812331550748" y1="581.5" x2="306.1812331550748" y2="582.9" stroke="#777" stroke-width="0.8"/>
<line x1="308.17327231135147" y1="581.5" x2="308.17327231135147" y2="582.9" stroke="#777" stroke-width="0.8"/>
<line x1="309.80088681344154" y1="581.5" x2="309.80088681344154" y2="582.9" stroke="#777" stroke-width="0.8"/>
<line x1="311.1770152669597" y1="581.5" x2="311.1770152669597" y2="582.9" stroke="#777" stroke-width="0.8"/>
<line x1="312.3690719548344" y1="581.5" x2="312.3690719548344" y2="582.9" stroke="#777" stroke-width="0.8"/>
<line x1="313.42054047180835" y1="581.5" x2="313.42054047180835" y2="582.9" stroke="#777" stroke-width="0.8"/>
<line x1="314.3611111111111" y1="581.5" x2="314.3611111111111" y2="584.1" stroke="#777" stroke-width="0.8"/>
<line x1="320.5489499108707" y1="581.5" x2="320.5489499108707" y2="582.9" stroke="#777" stroke-width="0.8"/>
<line x1="324.16860356923746" y1="581.5" x2="324.16860356923746" y2="582.9" stroke="#777" stroke-width="0.8"/>
<line x1="326.7367887106303" y1="581.5" x2="326.7367887106303" y2="582.9" stroke="#777" stroke-width="0.8"/>
<line x1="328.728827866907" y1="581.5" x2="328.728827866907" y2="582.9" stroke="#777" stroke-width="0.8"/>
<line x1="330.3564423689971" y1="581.5" x2="330.3564423689971" y2="582.9" stroke="#777" stroke-width="0.8"/>
<line x1="331.73257082251524" y1="581.5" x2="331.73257082251524" y2="582.9" stroke="#777" stroke-width="0.8"/>
<line x1="332.92462751038994" y1="581.5" x2="332.92462751038994" y2="582.9" stroke="#777" stroke-width="0.8"/>
<line x1="333.9760960273639" y1="581.5" x2="333.9760960273639" y2="582.9" stroke="#777" stroke-width="0.8"/>
<line x1="334.9166666666667" y1="581.5" x2="334.9166666666667" y2="584.1" stroke="#777" stroke-width="0.8"/>
<line x1="341.1045054664263" y1="581.5" x2="341.1045054664263" y2="582.9" stroke="#777" stroke-width="0.8"/>
<line x1="344.72415912479306" y1="581.5" x2="344.72415912479306" y2="582.9" stroke="#777" stroke-width="0.8"/>
<line x1="347.2923442661859" y1="581.5" x2="347.2923442661859" y2="582.9" stroke="#777" stroke-width="0.8"/>
<line x1="349.2843834224626" y1="581.5" x2="349.2843834224626" y2="582.9" stroke="#777" stroke-width="0.8"/>
<line x1="350.9119979245527" y1="581.5" x2="350.9119979245527" y2="582.9" stroke="#777" stroke-width="0.8"/>
<line x1="352.28812637807084" y1="581.5" x2="352.28812637807084" y2="582.9" stroke="#777" stroke-width="0.8"/>
<line x1="353.48018306594554" y1="581.5" x2="353.48018306594554" y2="582.9" stroke="#777" stroke-width="0.8"/>
<line x1="354.5316515829195" y1="581.5" x2="354.5316515829195" y2="582.9" stroke="#777" stroke-width="0.8"/>
<line x1="355.47222222222223" y1="581.5" x2="355.47222222222223" y2="584.1" stroke="#777" stroke-width="0.8"/>
<line x1="361.66006102198185" y1="581.5" x2="361.66006102198185" y2="582.9" stroke="#777" stroke-width="0.8"/>
<text x="104.6" y="610.7" font-size="11" text-anchor="middle" fill="#000">Y704</text>
<rect x="57" y="615.5" width="92.5" height="99.25" fill="none" stroke="#8a8a8a" stroke-width="1.1"/>
<line x1="55.0" y1="695.35" x2="57" y2="695.35" stroke="#666" stroke-width="1.0"/>
<line x1="55.0" y1="675.95" x2="57" y2="675.95" stroke="#666" stroke-width="1.0"/>
<line x1="55.0" y1="656.55" x2="57" y2="656.55" stroke="#666" stroke-width="1.0"/>
<line x1="55.0" y1="637.15" x2="57" y2="637.15" stroke="#666" stroke-width="1.0"/>
<line x1="55.0" y1="617.75" x2="57" y2="617.75" stroke="#666" stroke-width="1.0"/>
<line x1="59.0" y1="714.75" x2="59.0" y2="717.35" stroke="#777" stroke-width="0.8"/>
<line x1="65.18783879975962" y1="714.75" x2="65.18783879975962" y2="716.15" stroke="#777" stroke-width="0.8"/>
<line x1="68.80749245812639" y1="714.75" x2="68.80749245812639" y2="716.15" stroke="#777" stroke-width="0.8"/>
<line x1="71.37567759951924" y1="714.75" x2="71.37567759951924" y2="716.15" stroke="#777" stroke-width="0.8"/>
<line x1="73.36771675579594" y1="714.75" x2="73.36771675579594" y2="716.15" stroke="#777" stroke-width="0.8"/>
<line x1="74.99533125788601" y1="714.75" x2="74.99533125788601" y2="716.15" stroke="#777" stroke-width="0.8"/>
<line x1="76.37145971140417" y1="714.75" x2="76.37145971140417" y2="716.15" stroke="#777" stroke-width="0.8"/>
<line x1="77.56351639927884" y1="714.75" x2="77.56351639927884" y2="716.15" stroke="#777" stroke-width="0.8"/>
<line x1="78.6149849162528" y1="714.75" x2="78.6149849162528" y2="716.15" stroke="#777" stroke-width="0.8"/>
<line x1="79.55555555555556" y1="714.75" x2="79.55555555555556" y2="717.35" stroke="#777" stroke-width="0.8"/>
<line x1="85.74339435531517" y1="714.75" x2="85.74339435531517" y2="716.15" stroke="#777" stroke-width="0.8"/>
<line x1="89.36304801368195" y1="714.75" x2="89.36304801368195" y2="716.15" stroke="#777" stroke-width="0.8"/>
<line x1="91.93123315507478" y1="714.75" x2="91.93123315507478" y2="716.15" stroke="#777" stroke-width="0.8"/>
<line x1="93.9232723113515" y1="714.75" x2="93.9232723113515" y2="716.15" stroke="#777" stroke-width="0.8"/>
<line x1="95.55088681344156" y1="714.75" x2="95.55088681344156" y2="716.15" stroke="#777" stroke-width="0.8"/>
<line x1="96.92701526695973" y1="714.75" x2="96.92701526695973" y2="716.15" stroke="#777" stroke-width="0.8"/>
<line x1="98.1190719548344" y1="714.75" x2="98.1190719548344" y2="716.15" stroke="#777" stroke-width="0.8"/>
<line x1="99.17054047180835" y1="714.75" x2="99.17054047180835" y2="716.15" stroke="#777" stroke-width="0.8"/>
<line x1="100.11111111111111" y1="714.75" x2="100.11111111111111" y2="717.35" stroke="#777" stroke-width="0.8"/>
<line x1="106.29894991087073" y1="714.75" x2="106.29894991087073" y2="716.15" stroke="#777" stroke-width="0.8"/>
<line x1="109.9186035692375" y1="714.75" x2="109.9186035692375" y2="716.15" stroke="#777" stroke-width="0.8"/>
<line x1="112.48678871063035" y1="714.75" x2="112.48678871063035" y2="716.15" stroke="#777" stroke-width="0.8"/>
<line x1="114.47882786690705" y1="714.75" x2="114.47882786690705" y2="716.15" stroke="#777" stroke-width="0.8"/>
<line x1="116.10644236899712" y1="714.75" x2="116.10644236899712" y2="716.15" stroke="#777" stroke-width="0.8"/>
<line x1="117.48257082251529" y1="714.75" x2="117.48257082251529" y2="716.15" stroke="#777" stroke-width="0.8"/>
<line x1="118.67462751038995" y1="714.75" x2="118.67462751038995" y2="716.15" stroke="#777" stroke-width="0.8"/>
<line x1="119.72609602736391" y1="714.75" x2="119.72609602736391" y2="716.15" stroke="#777" stroke-width="0.8"/>
<line x1="120.66666666666667" y1="714.75" x2="120.66666666666667" y2="717.35" stroke="#777" stroke-width="0.8"/>
<line x1="126.85450546642629" y1="714.75" x2="126.85450546642629" y2="716.15" stroke="#777" stroke-width="0.8"/>
<line x1="130.47415912479306" y1="714.75" x2="130.47415912479306" y2="716.15" stroke="#777" stroke-width="0.8"/>
<line x1="133.0423442661859" y1="714.75" x2="133.0423442661859" y2="716.15" stroke="#777" stroke-width="0.8"/>
<line x1="135.0343834224626" y1="714.75" x2="135.0343834224626" y2="716.15" stroke="#777" stroke-width="0.8"/>
<line x1="136.66199792455268" y1="714.75" x2="136.66199792455268" y2="716.15" stroke="#777" stroke-width="0.8"/>
<line x1="138.03812637807084" y1="714.75" x2="138.03812637807084" y2="716.15" stroke="#777" stroke-width="0.8"/>
<line x1="139.2301830659455" y1="714.75" x2="139.2301830659455" y2="716.15" stroke="#777" stroke-width="0.8"/>
<line x1="140.28165158291947" y1="714.75" x2="140.28165158291947" y2="716.15" stroke="#777" stroke-width="0.8"/>
<line x1="141.22222222222223" y1="714.75" x2="141.22222222222223" y2="717.35" stroke="#777" stroke-width="0.8"/>
<line x1="147.41006102198185" y1="714.75" x2="147.41006102198185" y2="716.15" stroke="#777" stroke-width="0.8"/>
<text x="212.05" y="610.7" font-size="11" text-anchor="middle" fill="#000">Y729</text>
<rect x="164.25" y="615.5" width="92.0" height="99.25" fill="none" stroke="#8a8a8a" stroke-width="1.1"/>
<line x1="162.25" y1="695.35" x2="164.25" y2="695.35" stroke="#666" stroke-width="1.0"/>
<line x1="162.25" y1="675.95" x2="164.25" y2="675.95" stroke="#666" stroke-width="1.0"/>
<line x1="162.25" y1="656.55" x2="164.25" y2="656.55" stroke="#666" stroke-width="1.0"/>
<line x1="162.25" y1="637.15" x2="164.25" y2="637.15" stroke="#666" stroke-width="1.0"/>
<line x1="162.25" y1="617.75" x2="164.25" y2="617.75" stroke="#666" stroke-width="1.0"/>
<line x1="166.25" y1="714.75" x2="166.25" y2="717.35" stroke="#777" stroke-width="0.8"/>
<line x1="172.4043910224636" y1="714.75" x2="172.4043910224636" y2="716.15" stroke="#777" stroke-width="0.8"/>
<line x1="176.00447898537976" y1="714.75" x2="176.00447898537976" y2="716.15" stroke="#777" stroke-width="0.8"/>
<line x1="178.55878204492723" y1="714.75" x2="178.55878204492723" y2="716.15" stroke="#777" stroke-width="0.8"/>
<line x1="180.54005342198082" y1="714.75" x2="180.54005342198082" y2="716.15" stroke="#777" stroke-width="0.8"/>
<line x1="182.15887000784338" y1="714.75" x2="182.15887000784338" y2="716.15" stroke="#777" stroke-width="0.8"/>
<line x1="183.52755992918037" y1="714.75" x2="183.52755992918037" y2="716.15" stroke="#777" stroke-width="0.8"/>
<line x1="184.71317306739084" y1="714.75" x2="184.71317306739084" y2="716.15" stroke="#777" stroke-width="0.8"/>
<line x1="185.75895797075952" y1="714.75" x2="185.75895797075952" y2="716.15" stroke="#777" stroke-width="0.8"/>
<line x1="186.69444444444446" y1="714.75" x2="186.69444444444446" y2="717.35" stroke="#777" stroke-width="0.8"/>
<line x1="192.84883546690807" y1="714.75" x2="192.84883546690807" y2="716.15" stroke="#777" stroke-width="0.8"/>
<line x1="196.44892342982422" y1="714.75" x2="196.44892342982422" y2="716.15" stroke="#777" stroke-width="0.8"/>
<line x1="199.00322648937168" y1="714.75" x2="199.00322648937168" y2="716.15" stroke="#777" stroke-width="0.8"/>
<line x1="200.98449786642527" y1="714.75" x2="200.98449786642527" y2="716.15" stroke="#777" stroke-width="0.8"/>
<line x1="202.60331445228783" y1="714.75" x2="202.60331445228783" y2="716.15" stroke="#777" stroke-width="0.8"/>
<line x1="203.97200437362483" y1="714.75" x2="203.97200437362483" y2="716.15" stroke="#777" stroke-width="0.8"/>
<line x1="205.1576175118353" y1="714.75" x2="205.1576175118353" y2="716.15" stroke="#777" stroke-width="0.8"/>
<line x1="206.20340241520398" y1="714.75" x2="206.20340241520398" y2="716.15" stroke="#777" stroke-width="0.8"/>
<line x1="207.13888888888889" y1="714.75" x2="207.13888888888889" y2="717.35" stroke="#777" stroke-width="0.8"/>
<line x1="213.2932799113525" y1="714.75" x2="213.2932799113525" y2="716.15" stroke="#777" stroke-width="0.8"/>
<line x1="216.89336787426865" y1="714.75" x2="216.89336787426865" y2="716.15" stroke="#777" stroke-width="0.8"/>
<line x1="219.4476709338161" y1="714.75" x2="219.4476709338161" y2="716.15" stroke="#777" stroke-width="0.8"/>
<line x1="221.42894231086973" y1="714.75" x2="221.42894231086973" y2="716.15" stroke="#777" stroke-width="0.8"/>
<line x1="223.04775889673226" y1="714.75" x2="223.04775889673226" y2="716.15" stroke="#777" stroke-width="0.8"/>
<line x1="224.41644881806926" y1="714.75" x2="224.41644881806926" y2="716.15" stroke="#777" stroke-width="0.8"/>
<line x1="225.60206195627973" y1="714.75" x2="225.60206195627973" y2="716.15" stroke="#777" stroke-width="0.8"/>
<line x1="226.6478468596484" y1="714.75" x2="226.6478468596484" y2="716.15" stroke="#777" stroke-width="0.8"/>
<line x1="227.58333333333331" y1="714.75" x2="227.58333333333331" y2="717.35" stroke="#777" stroke-width="0.8"/>
<line x1="233.73772435579693" y1="714.75" x2="233.73772435579693" y2="716.15" stroke="#777" stroke-width="0.8"/>
<line x1="237.33781231871308" y1="714.75" x2="237.33781231871308" y2="716.15" stroke="#777" stroke-width="0.8"/>
<line x1="239.89211537826054" y1="714.75" x2="239.89211537826054" y2="716.15" stroke="#777" stroke-width="0.8"/>
<line x1="241.87338675531413" y1="714.75" x2="241.87338675531413" y2="716.15" stroke="#777" stroke-width="0.8"/>
<line x1="243.4922033411767" y1="714.75" x2="243.4922033411767" y2="716.15" stroke="#777" stroke-width="0.8"/>
<line x1="244.86089326251368" y1="714.75" x2="244.86089326251368" y2="716.15" stroke="#777" stroke-width="0.8"/>
<line x1="246.04650640072416" y1="714.75" x2="246.04650640072416" y2="716.15" stroke="#777" stroke-width="0.8"/>
<line x1="247.09229130409284" y1="714.75" x2="247.09229130409284" y2="716.15" stroke="#777" stroke-width="0.8"/>
<line x1="248.02777777777777" y1="714.75" x2="248.02777777777777" y2="717.35" stroke="#777" stroke-width="0.8"/>
<line x1="254.18216880024139" y1="714.75" x2="254.18216880024139" y2="716.15" stroke="#777" stroke-width="0.8"/>
<text x="322.8" y="610.7" font-size="11" text-anchor="middle" fill="#000">Y744</text>
<rect x="274.25" y="615.5" width="92.75" height="99.25" fill="none" stroke="#8a8a8a" stroke-width="1.1"/>
<line x1="272.25" y1="695.35" x2="274.25" y2="695.35" stroke="#666" stroke-width="1.0"/>
<line x1="272.25" y1="675.95" x2="274.25" y2="675.95" stroke="#666" stroke-width="1.0"/>
<line x1="272.25" y1="656.55" x2="274.25" y2="656.55" stroke="#666" stroke-width="1.0"/>
<line x1="272.25" y1="637.15" x2="274.25" y2="637.15" stroke="#666" stroke-width="1.0"/>
<line x1="272.25" y1="617.75" x2="274.25" y2="617.75" stroke="#666" stroke-width="1.0"/>
<line x1="276.25" y1="714.75" x2="276.25" y2="717.35" stroke="#777" stroke-width="0.8"/>
<line x1="282.45456268840763" y1="714.75" x2="282.45456268840763" y2="716.15" stroke="#777" stroke-width="0.8"/>
<line x1="286.0839991944997" y1="714.75" x2="286.0839991944997" y2="716.15" stroke="#777" stroke-width="0.8"/>
<line x1="288.6591253768152" y1="714.75" x2="288.6591253768152" y2="716.15" stroke="#777" stroke-width="0.8"/>
<line x1="290.6565484227035" y1="714.75" x2="290.6565484227035" y2="716.15" stroke="#777" stroke-width="0.8"/>
<line x1="292.28856188290735" y1="714.75" x2="292.28856188290735" y2="716.15" stroke="#777" stroke-width="0.8"/>
<line x1="293.6684096025161" y1="714.75" x2="293.6684096025161" y2="716.15" stroke="#777" stroke-width="0.8"/>
<line x1="294.86368806522285" y1="714.75" x2="294.86368806522285" y2="716.15" stroke="#777" stroke-width="0.8"/>
<line x1="295.9179983889994" y1="714.75" x2="295.9179983889994" y2="716.15" stroke="#777" stroke-width="0.8"/>
<line x1="296.8611111111111" y1="714.75" x2="296.8611111111111" y2="717.35" stroke="#777" stroke-width="0.8"/>
<line x1="303.0656737995187" y1="714.75" x2="303.0656737995187" y2="716.15" stroke="#777" stroke-width="0.8"/>
<line x1="306.6951103056108" y1="714.75" x2="306.6951103056108" y2="716.15" stroke="#777" stroke-width="0.8"/>
<line x1="309.2702364879263" y1="714.75" x2="309.2702364879263" y2="716.15" stroke="#777" stroke-width="0.8"/>
<line x1="311.2676595338146" y1="714.75" x2="311.2676595338146" y2="716.15" stroke="#777" stroke-width="0.8"/>
<line x1="312.89967299401843" y1="714.75" x2="312.89967299401843" y2="716.15" stroke="#777" stroke-width="0.8"/>
<line x1="314.27952071362716" y1="714.75" x2="314.27952071362716" y2="716.15" stroke="#777" stroke-width="0.8"/>
<line x1="315.47479917633393" y1="714.75" x2="315.47479917633393" y2="716.15" stroke="#777" stroke-width="0.8"/>
<line x1="316.5291095001105" y1="714.75" x2="316.5291095001105" y2="716.15" stroke="#777" stroke-width="0.8"/>
<line x1="317.47222222222223" y1="714.75" x2="317.47222222222223" y2="717.35" stroke="#777" stroke-width="0.8"/>
<line x1="323.67678491062986" y1="714.75" x2="323.67678491062986" y2="716.15" stroke="#777" stroke-width="0.8"/>
<line x1="327.30622141672194" y1="714.75" x2="327.30622141672194" y2="716.15" stroke="#777" stroke-width="0.8"/>
<line x1="329.88134759903744" y1="714.75" x2="329.88134759903744" y2="716.15" stroke="#777" stroke-width="0.8"/>
<line x1="331.87877064492574" y1="714.75" x2="331.87877064492574" y2="716.15" stroke="#777" stroke-width="0.8"/>
<line x1="333.5107841051296" y1="714.75" x2="333.5107841051296" y2="716.15" stroke="#777" stroke-width="0.8"/>
<line x1="334.8906318247383" y1="714.75" x2="334.8906318247383" y2="716.15" stroke="#777" stroke-width="0.8"/>
<line x1="336.0859102874451" y1="714.75" x2="336.0859102874451" y2="716.15" stroke="#777" stroke-width="0.8"/>
<line x1="337.14022061122165" y1="714.75" x2="337.14022061122165" y2="716.15" stroke="#777" stroke-width="0.8"/>
<line x1="338.0833333333333" y1="714.75" x2="338.0833333333333" y2="717.35" stroke="#777" stroke-width="0.8"/>
<line x1="344.28789602174095" y1="714.75" x2="344.28789602174095" y2="716.15" stroke="#777" stroke-width="0.8"/>
<line x1="347.917332527833" y1="714.75" x2="347.917332527833" y2="716.15" stroke="#777" stroke-width="0.8"/>
<line x1="350.4924587101485" y1="714.75" x2="350.4924587101485" y2="716.15" stroke="#777" stroke-width="0.8"/>
<line x1="352.4898817560368" y1="714.75" x2="352.4898817560368" y2="716.15" stroke="#777" stroke-width="0.8"/>
<line x1="354.12189521624066" y1="714.75" x2="354.12189521624066" y2="716.15" stroke="#777" stroke-width="0.8"/>
<line x1="355.5017429358494" y1="714.75" x2="355.5017429358494" y2="716.15" stroke="#777" stroke-width="0.8"/>
<line x1="356.69702139855616" y1="714.75" x2="356.69702139855616" y2="716.15" stroke="#777" stroke-width="0.8"/>
<line x1="357.75133172233274" y1="714.75" x2="357.75133172233274" y2="716.15" stroke="#777" stroke-width="0.8"/>
<line x1="358.69444444444446" y1="714.75" x2="358.69444444444446" y2="717.35" stroke="#777" stroke-width="0.8"/>
<line x1="364.8990071328521" y1="714.75" x2="364.8990071328521" y2="716.15" stroke="#777" stroke-width="0.8"/>
<text x="430.6" y="610.7" font-size="11" text-anchor="middle" fill="#000">Y764</text>
<rect x="380.75" y="615.5" width="92.25" height="99.25" fill="none" stroke="#8a8a8a" stroke-width="1.1"/>
<line x1="378.75" y1="695.35" x2="380.75" y2="695.35" stroke="#666" stroke-width="1.0"/>
<line x1="378.75" y1="675.95" x2="380.75" y2="675.95" stroke="#666" stroke-width="1.0"/>
<line x1="378.75" y1="656.55" x2="380.75" y2="656.55" stroke="#666" stroke-width="1.0"/>
<line x1="378.75" y1="637.15" x2="380.75" y2="637.15" stroke="#666" stroke-width="1.0"/>
<line x1="378.75" y1="617.75" x2="380.75" y2="617.75" stroke="#666" stroke-width="1.0"/>
<line x1="382.75" y1="714.75" x2="382.75" y2="717.35" stroke="#777" stroke-width="0.8"/>
<line x1="388.9211149111116" y1="714.75" x2="388.9211149111116" y2="716.15" stroke="#777" stroke-width="0.8"/>
<line x1="392.5309857217531" y1="714.75" x2="392.5309857217531" y2="716.15" stroke="#777" stroke-width="0.8"/>
<line x1="395.0922298222232" y1="714.75" x2="395.0922298222232" y2="716.15" stroke="#777" stroke-width="0.8"/>
<line x1="397.0788850888884" y1="714.75" x2="397.0788850888884" y2="716.15" stroke="#777" stroke-width="0.8"/>
<line x1="398.7021006328647" y1="714.75" x2="398.7021006328647" y2="716.15" stroke="#777" stroke-width="0.8"/>
<line x1="400.0745098202923" y1="714.75" x2="400.0745098202923" y2="716.15" stroke="#777" stroke-width="0.8"/>
<line x1="401.26334473333486" y1="714.75" x2="401.26334473333486" y2="716.15" stroke="#777" stroke-width="0.8"/>
<line x1="402.31197144350614" y1="714.75" x2="402.31197144350614" y2="716.15" stroke="#777" stroke-width="0.8"/>
<line x1="403.25" y1="714.75" x2="403.25" y2="717.35" stroke="#777" stroke-width="0.8"/>
<line x1="409.4211149111116" y1="714.75" x2="409.4211149111116" y2="716.15" stroke="#777" stroke-width="0.8"/>
<line x1="413.0309857217531" y1="714.75" x2="413.0309857217531" y2="716.15" stroke="#777" stroke-width="0.8"/>
<line x1="415.5922298222232" y1="714.75" x2="415.5922298222232" y2="716.15" stroke="#777" stroke-width="0.8"/>
<line x1="417.5788850888884" y1="714.75" x2="417.5788850888884" y2="716.15" stroke="#777" stroke-width="0.8"/>
<line x1="419.2021006328647" y1="714.75" x2="419.2021006328647" y2="716.15" stroke="#777" stroke-width="0.8"/>
<line x1="420.5745098202923" y1="714.75" x2="420.5745098202923" y2="716.15" stroke="#777" stroke-width="0.8"/>
<line x1="421.76334473333486" y1="714.75" x2="421.76334473333486" y2="716.15" stroke="#777" stroke-width="0.8"/>
<line x1="422.81197144350614" y1="714.75" x2="422.81197144350614" y2="716.15" stroke="#777" stroke-width="0.8"/>
<line x1="423.75" y1="714.75" x2="423.75" y2="717.35" stroke="#777" stroke-width="0.8"/>
<line x1="429.9211149111116" y1="714.75" x2="429.9211149111116" y2="716.15" stroke="#777" stroke-width="0.8"/>
<line x1="433.5309857217531" y1="714.75" x2="433.5309857217531" y2="716.15" stroke="#777" stroke-width="0.8"/>
<line x1="436.0922298222232" y1="714.75" x2="436.0922298222232" y2="716.15" stroke="#777" stroke-width="0.8"/>
<line x1="438.0788850888884" y1="714.75" x2="438.0788850888884" y2="716.15" stroke="#777" stroke-width="0.8"/>
<line x1="439.7021006328647" y1="714.75" x2="439.7021006328647" y2="716.15" stroke="#777" stroke-width="0.8"/>
<line x1="441.0745098202923" y1="714.75" x2="441.0745098202923" y2="716.15" stroke="#777" stroke-width="0.8"/>
<line x1="442.26334473333486" y1="714.75" x2="442.26334473333486" y2="716.15" stroke="#777" stroke-width="0.8"/>
<line x1="443.31197144350614" y1="714.75" x2="443.31197144350614" y2="716.15" stroke="#777" stroke-width="0.8"/>
<line x1="444.25" y1="714.75" x2="444.25" y2="717.35" stroke="#777" stroke-width="0.8"/>
<line x1="450.4211149111116" y1="714.75" x2="450.4211149111116" y2="716.15" stroke="#777" stroke-width="0.8"/>
<line x1="454.0309857217531" y1="714.75" x2="454.0309857217531" y2="716.15" stroke="#777" stroke-width="0.8"/>
<line x1="456.5922298222232" y1="714.75" x2="456.5922298222232" y2="716.15" stroke="#777" stroke-width="0.8"/>
<line x1="458.5788850888884" y1="714.75" x2="458.5788850888884" y2="716.15" stroke="#777" stroke-width="0.8"/>
<line x1="460.2021006328647" y1="714.75" x2="460.2021006328647" y2="716.15" stroke="#777" stroke-width="0.8"/>
<line x1="461.5745098202923" y1="714.75" x2="461.5745098202923" y2="716.15" stroke="#777" stroke-width="0.8"/>
<line x1="462.76334473333486" y1="714.75" x2="462.76334473333486" y2="716.15" stroke="#777" stroke-width="0.8"/>
<line x1="463.81197144350614" y1="714.75" x2="463.81197144350614" y2="716.15" stroke="#777" stroke-width="0.8"/>
<line x1="464.75" y1="714.75" x2="464.75" y2="717.35" stroke="#777" stroke-width="0.8"/>
<line x1="470.9211149111116" y1="714.75" x2="470.9211149111116" y2="716.15" stroke="#777" stroke-width="0.8"/>
<line x1="45.75" y1="491.5" x2="45.75" y2="660.5" stroke="#222" stroke-width="1.2"/>
<path d="M42.55,493.5 L45.75,486.5 L48.95,493.5 Z" fill="#111" stroke="none" stroke-width="1"/>
<text x="47.2" y="717.8" font-size="11" font-weight="bold" transform="rotate(-90 47.2 717.8)" fill="#000">% of max</text>
<text x="60.3" y="734.2" font-size="11.3" font-weight="bold" fill="#000">pSTAT3</text>
<line x1="112.5" y1="730.4" x2="462" y2="730.4" stroke="#222" stroke-width="1.2"/>
<path d="M460,727.1999999999999 L467,730.4 L460,733.6 Z" fill="#111" stroke="none" stroke-width="1"/>
<line x1="367" y1="508" x2="379.5" y2="508" stroke="#000" stroke-width="2.4"/>
<text x="387.5" y="511.5" font-size="11" fill="#000">G-CSF</text>
<line x1="367" y1="524.5" x2="379.5" y2="524.5" stroke="#000" stroke-width="1.0"/>
<text x="387.5" y="528" font-size="11" fill="#000">IFN&#947; + G-CSF</text>
<rect x="367" y="538.75" width="12.5" height="5.5" fill="#939393" stroke="none" stroke-width="1"/>
<text x="387.5" y="544.5" font-size="11" fill="#000">Unstimulated</text>
</svg>
</body></html>
